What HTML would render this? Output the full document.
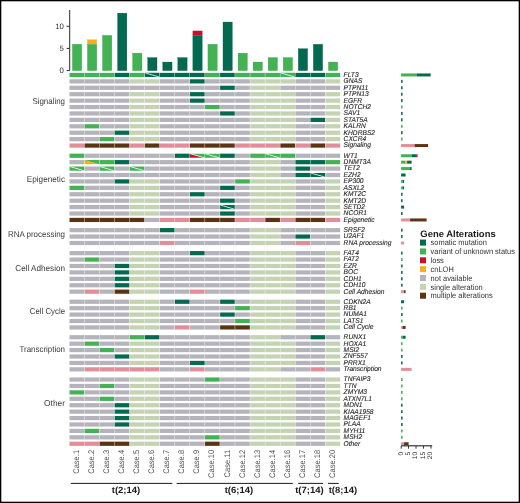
<!DOCTYPE html>
<html><head><meta charset="utf-8"><title>Oncoprint</title>
<style>
html,body{margin:0;padding:0;background:#fff;}
svg{display:block;will-change:transform;text-rendering:geometricPrecision;font-family:"Liberation Sans",sans-serif;}
</style></head>
<body>
<svg width="520" height="503" viewBox="0 0 520 503">
<rect width="520" height="503" fill="#fff"/>
<rect x="72.4" y="44.28" width="9.3" height="26.37" fill="#42b252" stroke="#23a03c" stroke-width="0.3"/>
<rect x="87.46" y="44.28" width="9.3" height="26.37" fill="#42b252" stroke="#23a03c" stroke-width="0.3"/>
<rect x="87.46" y="39.83" width="9.3" height="4.15" fill="#f5b11a" stroke="#e0a010" stroke-width="0.3"/>
<rect x="102.52" y="35.39" width="9.3" height="35.26" fill="#42b252" stroke="#23a03c" stroke-width="0.3"/>
<rect x="117.58" y="13.16" width="9.3" height="57.49" fill="#026a50" stroke="#00553e" stroke-width="0.3"/>
<rect x="132.64" y="53.17" width="9.3" height="17.48" fill="#42b252" stroke="#23a03c" stroke-width="0.3"/>
<rect x="147.7" y="57.61" width="9.3" height="13.04" fill="#026a50" stroke="#00553e" stroke-width="0.3"/>
<rect x="162.76" y="62.06" width="9.3" height="8.59" fill="#026a50" stroke="#00553e" stroke-width="0.3"/>
<rect x="177.82" y="57.61" width="9.3" height="13.04" fill="#026a50" stroke="#00553e" stroke-width="0.3"/>
<rect x="192.88" y="35.39" width="9.3" height="35.26" fill="#026a50" stroke="#00553e" stroke-width="0.3"/>
<rect x="192.88" y="30.94" width="9.3" height="4.15" fill="#c8102e" stroke="#a80d26" stroke-width="0.3"/>
<rect x="207.94" y="44.28" width="9.3" height="26.37" fill="#42b252" stroke="#23a03c" stroke-width="0.3"/>
<rect x="223" y="22.05" width="9.3" height="48.6" fill="#026a50" stroke="#00553e" stroke-width="0.3"/>
<rect x="238.06" y="53.17" width="9.3" height="17.48" fill="#42b252" stroke="#23a03c" stroke-width="0.3"/>
<rect x="253.12" y="62.06" width="9.3" height="8.59" fill="#42b252" stroke="#23a03c" stroke-width="0.3"/>
<rect x="268.18" y="57.61" width="9.3" height="13.04" fill="#42b252" stroke="#23a03c" stroke-width="0.3"/>
<rect x="283.24" y="57.61" width="9.3" height="13.04" fill="#42b252" stroke="#23a03c" stroke-width="0.3"/>
<rect x="298.3" y="48.72" width="9.3" height="21.93" fill="#026a50" stroke="#00553e" stroke-width="0.3"/>
<rect x="313.36" y="44.28" width="9.3" height="26.37" fill="#026a50" stroke="#00553e" stroke-width="0.3"/>
<rect x="328.42" y="62.06" width="9.3" height="8.59" fill="#42b252" stroke="#23a03c" stroke-width="0.3"/>
<path d="M69.7 10V70.6H66.6M66.6 48.4H69.7M66.6 26.3H69.7" fill="none" stroke="#2b2b2b" stroke-width="1"/>
<text x="63.9" y="29.05" text-anchor="end" font-size="7.8" fill="#333">10</text>
<text x="63.9" y="51.15" text-anchor="end" font-size="7.8" fill="#333">5</text>
<text x="63.9" y="73.25" text-anchor="end" font-size="7.8" fill="#333">0</text>
<text x="65" y="103.8" text-anchor="end" font-size="8.5" fill="#3a3a3a" textLength="32.6" lengthAdjust="spacingAndGlyphs">Signaling</text>
<rect x="69.5" y="72.85" width="44.78" height="4.2" fill="#42b252"/>
<rect x="84.16" y="72.85" width="0.4" height="4.2" fill="#fff"/>
<rect x="99.22" y="72.85" width="0.4" height="4.2" fill="#fff"/>
<rect x="114.68" y="72.85" width="14.66" height="4.2" fill="#026a50"/>
<rect x="129.74" y="72.85" width="14.66" height="4.2" fill="#42b252"/>
<path d="M144.8 72.85L144.8 77.05L159.46 77.05Z" fill="#026a50"/><path d="M144.8 72.85L159.46 72.85L159.46 77.05Z" fill="#026a50"/><path d="M145.3 72.95L158.96 76.95" stroke="#fff" stroke-width="0.7"/>
<rect x="159.86" y="72.85" width="44.78" height="4.2" fill="#026a50"/>
<rect x="174.52" y="72.85" width="0.4" height="4.2" fill="#fff"/>
<rect x="189.58" y="72.85" width="0.4" height="4.2" fill="#fff"/>
<rect x="205.04" y="72.85" width="14.66" height="4.2" fill="#42b252"/>
<rect x="220.1" y="72.85" width="14.66" height="4.2" fill="#026a50"/>
<rect x="235.16" y="72.85" width="44.78" height="4.2" fill="#42b252"/>
<rect x="249.82" y="72.85" width="0.4" height="4.2" fill="#fff"/>
<rect x="264.88" y="72.85" width="0.4" height="4.2" fill="#fff"/>
<path d="M280.34 72.85L280.34 77.05L295 77.05Z" fill="#42b252"/><path d="M280.34 72.85L295 72.85L295 77.05Z" fill="#42b252"/><path d="M280.84 72.95L294.5 76.95" stroke="#fff" stroke-width="0.7"/>
<rect x="295.4" y="72.85" width="29.72" height="4.2" fill="#026a50"/>
<rect x="310.06" y="72.85" width="0.4" height="4.2" fill="#fff"/>
<rect x="325.52" y="72.85" width="14.66" height="4.2" fill="#42b252"/>
<text transform="translate(343.6 76.85) scale(0.95 1)" font-size="7" font-style="italic" fill="#262626" stroke="#262626" stroke-width="0.12">FLT3</text>
<rect x="401.1" y="73.45" width="15.9" height="3" fill="#42b252"/>
<rect x="417" y="73.45" width="13.65" height="3" fill="#026a50"/>
<rect x="69.5" y="79.27" width="59.84" height="4.2" fill="#b5b3bb"/>
<rect x="84.16" y="79.27" width="0.4" height="4.2" fill="#fff"/>
<rect x="99.22" y="79.27" width="0.4" height="4.2" fill="#fff"/>
<rect x="114.28" y="79.27" width="0.4" height="4.2" fill="#fff"/>
<rect x="129.74" y="79.27" width="29.72" height="4.2" fill="#c4d3b1"/>
<rect x="144.4" y="79.27" width="0.4" height="4.2" fill="#fff"/>
<rect x="159.86" y="79.27" width="29.72" height="4.2" fill="#b5b3bb"/>
<rect x="174.52" y="79.27" width="0.4" height="4.2" fill="#fff"/>
<rect x="189.98" y="79.27" width="14.66" height="4.2" fill="#026a50"/>
<rect x="205.04" y="79.27" width="44.78" height="4.2" fill="#b5b3bb"/>
<rect x="219.7" y="79.27" width="0.4" height="4.2" fill="#fff"/>
<rect x="234.76" y="79.27" width="0.4" height="4.2" fill="#fff"/>
<rect x="250.22" y="79.27" width="44.78" height="4.2" fill="#c4d3b1"/>
<rect x="264.88" y="79.27" width="0.4" height="4.2" fill="#fff"/>
<rect x="279.94" y="79.27" width="0.4" height="4.2" fill="#fff"/>
<rect x="295.4" y="79.27" width="29.72" height="4.2" fill="#b5b3bb"/>
<rect x="310.06" y="79.27" width="0.4" height="4.2" fill="#fff"/>
<rect x="325.52" y="79.27" width="14.66" height="4.2" fill="#c4d3b1"/>
<text transform="translate(343.6 83.27) scale(0.95 1)" font-size="7" font-style="italic" fill="#262626" stroke="#262626" stroke-width="0.12">GNAS</text>
<rect x="401.1" y="79.87" width="1.5" height="3" fill="#026a50"/>
<rect x="69.5" y="85.69" width="150.2" height="4.2" fill="#b5b3bb"/>
<rect x="84.16" y="85.69" width="0.4" height="4.2" fill="#fff"/>
<rect x="99.22" y="85.69" width="0.4" height="4.2" fill="#fff"/>
<rect x="114.28" y="85.69" width="0.4" height="4.2" fill="#fff"/>
<rect x="129.34" y="85.69" width="0.4" height="4.2" fill="#fff"/>
<rect x="144.4" y="85.69" width="0.4" height="4.2" fill="#fff"/>
<rect x="159.46" y="85.69" width="0.4" height="4.2" fill="#fff"/>
<rect x="174.52" y="85.69" width="0.4" height="4.2" fill="#fff"/>
<rect x="189.58" y="85.69" width="0.4" height="4.2" fill="#fff"/>
<rect x="204.64" y="85.69" width="0.4" height="4.2" fill="#fff"/>
<rect x="220.1" y="85.69" width="14.66" height="4.2" fill="#026a50"/>
<rect x="235.16" y="85.69" width="14.66" height="4.2" fill="#b5b3bb"/>
<rect x="250.22" y="85.69" width="29.72" height="4.2" fill="#c4d3b1"/>
<rect x="264.88" y="85.69" width="0.4" height="4.2" fill="#fff"/>
<rect x="280.34" y="85.69" width="59.84" height="4.2" fill="#b5b3bb"/>
<rect x="295" y="85.69" width="0.4" height="4.2" fill="#fff"/>
<rect x="310.06" y="85.69" width="0.4" height="4.2" fill="#fff"/>
<rect x="325.12" y="85.69" width="0.4" height="4.2" fill="#fff"/>
<text transform="translate(343.6 89.69) scale(0.95 1)" font-size="7" font-style="italic" fill="#262626" stroke="#262626" stroke-width="0.12">PTPN11</text>
<rect x="401.1" y="86.29" width="1.5" height="3" fill="#026a50"/>
<rect x="69.5" y="92.11" width="59.84" height="4.2" fill="#b5b3bb"/>
<rect x="84.16" y="92.11" width="0.4" height="4.2" fill="#fff"/>
<rect x="99.22" y="92.11" width="0.4" height="4.2" fill="#fff"/>
<rect x="114.28" y="92.11" width="0.4" height="4.2" fill="#fff"/>
<rect x="129.74" y="92.11" width="29.72" height="4.2" fill="#c4d3b1"/>
<rect x="144.4" y="92.11" width="0.4" height="4.2" fill="#fff"/>
<rect x="159.86" y="92.11" width="29.72" height="4.2" fill="#b5b3bb"/>
<rect x="174.52" y="92.11" width="0.4" height="4.2" fill="#fff"/>
<rect x="189.98" y="92.11" width="14.66" height="4.2" fill="#026a50"/>
<rect x="205.04" y="92.11" width="44.78" height="4.2" fill="#b5b3bb"/>
<rect x="219.7" y="92.11" width="0.4" height="4.2" fill="#fff"/>
<rect x="234.76" y="92.11" width="0.4" height="4.2" fill="#fff"/>
<rect x="250.22" y="92.11" width="44.78" height="4.2" fill="#c4d3b1"/>
<rect x="264.88" y="92.11" width="0.4" height="4.2" fill="#fff"/>
<rect x="279.94" y="92.11" width="0.4" height="4.2" fill="#fff"/>
<rect x="295.4" y="92.11" width="29.72" height="4.2" fill="#b5b3bb"/>
<rect x="310.06" y="92.11" width="0.4" height="4.2" fill="#fff"/>
<rect x="325.52" y="92.11" width="14.66" height="4.2" fill="#c4d3b1"/>
<text transform="translate(343.6 96.11) scale(0.95 1)" font-size="7" font-style="italic" fill="#262626" stroke="#262626" stroke-width="0.12">PTPN13</text>
<rect x="401.1" y="92.71" width="1.5" height="3" fill="#026a50"/>
<rect x="69.5" y="98.53" width="59.84" height="4.2" fill="#b5b3bb"/>
<rect x="84.16" y="98.53" width="0.4" height="4.2" fill="#fff"/>
<rect x="99.22" y="98.53" width="0.4" height="4.2" fill="#fff"/>
<rect x="114.28" y="98.53" width="0.4" height="4.2" fill="#fff"/>
<rect x="129.74" y="98.53" width="29.72" height="4.2" fill="#c4d3b1"/>
<rect x="144.4" y="98.53" width="0.4" height="4.2" fill="#fff"/>
<rect x="159.86" y="98.53" width="29.72" height="4.2" fill="#b5b3bb"/>
<rect x="174.52" y="98.53" width="0.4" height="4.2" fill="#fff"/>
<rect x="189.98" y="98.53" width="14.66" height="4.2" fill="#026a50"/>
<rect x="205.04" y="98.53" width="44.78" height="4.2" fill="#b5b3bb"/>
<rect x="219.7" y="98.53" width="0.4" height="4.2" fill="#fff"/>
<rect x="234.76" y="98.53" width="0.4" height="4.2" fill="#fff"/>
<rect x="250.22" y="98.53" width="44.78" height="4.2" fill="#c4d3b1"/>
<rect x="264.88" y="98.53" width="0.4" height="4.2" fill="#fff"/>
<rect x="279.94" y="98.53" width="0.4" height="4.2" fill="#fff"/>
<rect x="295.4" y="98.53" width="29.72" height="4.2" fill="#b5b3bb"/>
<rect x="310.06" y="98.53" width="0.4" height="4.2" fill="#fff"/>
<rect x="325.52" y="98.53" width="14.66" height="4.2" fill="#c4d3b1"/>
<text transform="translate(343.6 102.53) scale(0.95 1)" font-size="7" font-style="italic" fill="#262626" stroke="#262626" stroke-width="0.12">EGFR</text>
<rect x="401.1" y="99.13" width="1.5" height="3" fill="#026a50"/>
<rect x="69.5" y="104.95" width="59.84" height="4.2" fill="#b5b3bb"/>
<rect x="84.16" y="104.95" width="0.4" height="4.2" fill="#fff"/>
<rect x="99.22" y="104.95" width="0.4" height="4.2" fill="#fff"/>
<rect x="114.28" y="104.95" width="0.4" height="4.2" fill="#fff"/>
<rect x="129.74" y="104.95" width="29.72" height="4.2" fill="#c4d3b1"/>
<rect x="144.4" y="104.95" width="0.4" height="4.2" fill="#fff"/>
<rect x="159.86" y="104.95" width="44.78" height="4.2" fill="#b5b3bb"/>
<rect x="174.52" y="104.95" width="0.4" height="4.2" fill="#fff"/>
<rect x="189.58" y="104.95" width="0.4" height="4.2" fill="#fff"/>
<rect x="205.04" y="104.95" width="14.66" height="4.2" fill="#42b252"/>
<rect x="220.1" y="104.95" width="29.72" height="4.2" fill="#b5b3bb"/>
<rect x="234.76" y="104.95" width="0.4" height="4.2" fill="#fff"/>
<rect x="250.22" y="104.95" width="44.78" height="4.2" fill="#c4d3b1"/>
<rect x="264.88" y="104.95" width="0.4" height="4.2" fill="#fff"/>
<rect x="279.94" y="104.95" width="0.4" height="4.2" fill="#fff"/>
<rect x="295.4" y="104.95" width="29.72" height="4.2" fill="#b5b3bb"/>
<rect x="310.06" y="104.95" width="0.4" height="4.2" fill="#fff"/>
<rect x="325.52" y="104.95" width="14.66" height="4.2" fill="#c4d3b1"/>
<text transform="translate(343.6 108.95) scale(0.95 1)" font-size="7" font-style="italic" fill="#262626" stroke="#262626" stroke-width="0.12">NOTCH2</text>
<rect x="401.1" y="105.55" width="1.5" height="3" fill="#42b252"/>
<rect x="69.5" y="111.37" width="59.84" height="4.2" fill="#b5b3bb"/>
<rect x="84.16" y="111.37" width="0.4" height="4.2" fill="#fff"/>
<rect x="99.22" y="111.37" width="0.4" height="4.2" fill="#fff"/>
<rect x="114.28" y="111.37" width="0.4" height="4.2" fill="#fff"/>
<rect x="129.74" y="111.37" width="29.72" height="4.2" fill="#c4d3b1"/>
<rect x="144.4" y="111.37" width="0.4" height="4.2" fill="#fff"/>
<rect x="159.86" y="111.37" width="59.84" height="4.2" fill="#b5b3bb"/>
<rect x="174.52" y="111.37" width="0.4" height="4.2" fill="#fff"/>
<rect x="189.58" y="111.37" width="0.4" height="4.2" fill="#fff"/>
<rect x="204.64" y="111.37" width="0.4" height="4.2" fill="#fff"/>
<rect x="220.1" y="111.37" width="14.66" height="4.2" fill="#026a50"/>
<rect x="235.16" y="111.37" width="14.66" height="4.2" fill="#b5b3bb"/>
<rect x="250.22" y="111.37" width="44.78" height="4.2" fill="#c4d3b1"/>
<rect x="264.88" y="111.37" width="0.4" height="4.2" fill="#fff"/>
<rect x="279.94" y="111.37" width="0.4" height="4.2" fill="#fff"/>
<rect x="295.4" y="111.37" width="29.72" height="4.2" fill="#b5b3bb"/>
<rect x="310.06" y="111.37" width="0.4" height="4.2" fill="#fff"/>
<rect x="325.52" y="111.37" width="14.66" height="4.2" fill="#c4d3b1"/>
<text transform="translate(343.6 115.37) scale(0.95 1)" font-size="7" font-style="italic" fill="#262626" stroke="#262626" stroke-width="0.12">SAV1</text>
<rect x="401.1" y="111.97" width="1.5" height="3" fill="#026a50"/>
<rect x="69.5" y="117.79" width="59.84" height="4.2" fill="#b5b3bb"/>
<rect x="84.16" y="117.79" width="0.4" height="4.2" fill="#fff"/>
<rect x="99.22" y="117.79" width="0.4" height="4.2" fill="#fff"/>
<rect x="114.28" y="117.79" width="0.4" height="4.2" fill="#fff"/>
<rect x="129.74" y="117.79" width="29.72" height="4.2" fill="#c4d3b1"/>
<rect x="144.4" y="117.79" width="0.4" height="4.2" fill="#fff"/>
<rect x="159.86" y="117.79" width="89.96" height="4.2" fill="#b5b3bb"/>
<rect x="174.52" y="117.79" width="0.4" height="4.2" fill="#fff"/>
<rect x="189.58" y="117.79" width="0.4" height="4.2" fill="#fff"/>
<rect x="204.64" y="117.79" width="0.4" height="4.2" fill="#fff"/>
<rect x="219.7" y="117.79" width="0.4" height="4.2" fill="#fff"/>
<rect x="234.76" y="117.79" width="0.4" height="4.2" fill="#fff"/>
<rect x="250.22" y="117.79" width="44.78" height="4.2" fill="#c4d3b1"/>
<rect x="264.88" y="117.79" width="0.4" height="4.2" fill="#fff"/>
<rect x="279.94" y="117.79" width="0.4" height="4.2" fill="#fff"/>
<rect x="295.4" y="117.79" width="14.66" height="4.2" fill="#b5b3bb"/>
<rect x="310.46" y="117.79" width="14.66" height="4.2" fill="#026a50"/>
<rect x="325.52" y="117.79" width="14.66" height="4.2" fill="#c4d3b1"/>
<text transform="translate(343.6 121.79) scale(0.95 1)" font-size="7" font-style="italic" fill="#262626" stroke="#262626" stroke-width="0.12">STAT5A</text>
<rect x="401.1" y="118.39" width="1.5" height="3" fill="#026a50"/>
<rect x="69.5" y="124.21" width="14.66" height="4.2" fill="#b5b3bb"/>
<rect x="84.56" y="124.21" width="14.66" height="4.2" fill="#42b252"/>
<rect x="99.62" y="124.21" width="29.72" height="4.2" fill="#b5b3bb"/>
<rect x="114.28" y="124.21" width="0.4" height="4.2" fill="#fff"/>
<rect x="129.74" y="124.21" width="29.72" height="4.2" fill="#c4d3b1"/>
<rect x="144.4" y="124.21" width="0.4" height="4.2" fill="#fff"/>
<rect x="159.86" y="124.21" width="89.96" height="4.2" fill="#b5b3bb"/>
<rect x="174.52" y="124.21" width="0.4" height="4.2" fill="#fff"/>
<rect x="189.58" y="124.21" width="0.4" height="4.2" fill="#fff"/>
<rect x="204.64" y="124.21" width="0.4" height="4.2" fill="#fff"/>
<rect x="219.7" y="124.21" width="0.4" height="4.2" fill="#fff"/>
<rect x="234.76" y="124.21" width="0.4" height="4.2" fill="#fff"/>
<rect x="250.22" y="124.21" width="44.78" height="4.2" fill="#c4d3b1"/>
<rect x="264.88" y="124.21" width="0.4" height="4.2" fill="#fff"/>
<rect x="279.94" y="124.21" width="0.4" height="4.2" fill="#fff"/>
<rect x="295.4" y="124.21" width="29.72" height="4.2" fill="#b5b3bb"/>
<rect x="310.06" y="124.21" width="0.4" height="4.2" fill="#fff"/>
<rect x="325.52" y="124.21" width="14.66" height="4.2" fill="#c4d3b1"/>
<text transform="translate(343.6 128.21) scale(0.95 1)" font-size="7" font-style="italic" fill="#262626" stroke="#262626" stroke-width="0.12">KALRN</text>
<rect x="401.1" y="124.81" width="1.5" height="3" fill="#42b252"/>
<rect x="69.5" y="130.63" width="44.78" height="4.2" fill="#b5b3bb"/>
<rect x="84.16" y="130.63" width="0.4" height="4.2" fill="#fff"/>
<rect x="99.22" y="130.63" width="0.4" height="4.2" fill="#fff"/>
<rect x="114.68" y="130.63" width="14.66" height="4.2" fill="#026a50"/>
<rect x="129.74" y="130.63" width="29.72" height="4.2" fill="#c4d3b1"/>
<rect x="144.4" y="130.63" width="0.4" height="4.2" fill="#fff"/>
<rect x="159.86" y="130.63" width="89.96" height="4.2" fill="#b5b3bb"/>
<rect x="174.52" y="130.63" width="0.4" height="4.2" fill="#fff"/>
<rect x="189.58" y="130.63" width="0.4" height="4.2" fill="#fff"/>
<rect x="204.64" y="130.63" width="0.4" height="4.2" fill="#fff"/>
<rect x="219.7" y="130.63" width="0.4" height="4.2" fill="#fff"/>
<rect x="234.76" y="130.63" width="0.4" height="4.2" fill="#fff"/>
<rect x="250.22" y="130.63" width="44.78" height="4.2" fill="#c4d3b1"/>
<rect x="264.88" y="130.63" width="0.4" height="4.2" fill="#fff"/>
<rect x="279.94" y="130.63" width="0.4" height="4.2" fill="#fff"/>
<rect x="295.4" y="130.63" width="29.72" height="4.2" fill="#b5b3bb"/>
<rect x="310.06" y="130.63" width="0.4" height="4.2" fill="#fff"/>
<rect x="325.52" y="130.63" width="14.66" height="4.2" fill="#c4d3b1"/>
<text transform="translate(343.6 134.63) scale(0.95 1)" font-size="7" font-style="italic" fill="#262626" stroke="#262626" stroke-width="0.12">KHDRBS2</text>
<rect x="401.1" y="131.23" width="1.5" height="3" fill="#026a50"/>
<rect x="69.5" y="137.05" width="29.72" height="4.2" fill="#b5b3bb"/>
<rect x="84.16" y="137.05" width="0.4" height="4.2" fill="#fff"/>
<rect x="99.62" y="137.05" width="14.66" height="4.2" fill="#42b252"/>
<rect x="114.68" y="137.05" width="14.66" height="4.2" fill="#b5b3bb"/>
<rect x="129.74" y="137.05" width="29.72" height="4.2" fill="#c4d3b1"/>
<rect x="144.4" y="137.05" width="0.4" height="4.2" fill="#fff"/>
<rect x="159.86" y="137.05" width="89.96" height="4.2" fill="#b5b3bb"/>
<rect x="174.52" y="137.05" width="0.4" height="4.2" fill="#fff"/>
<rect x="189.58" y="137.05" width="0.4" height="4.2" fill="#fff"/>
<rect x="204.64" y="137.05" width="0.4" height="4.2" fill="#fff"/>
<rect x="219.7" y="137.05" width="0.4" height="4.2" fill="#fff"/>
<rect x="234.76" y="137.05" width="0.4" height="4.2" fill="#fff"/>
<rect x="250.22" y="137.05" width="44.78" height="4.2" fill="#c4d3b1"/>
<rect x="264.88" y="137.05" width="0.4" height="4.2" fill="#fff"/>
<rect x="279.94" y="137.05" width="0.4" height="4.2" fill="#fff"/>
<rect x="295.4" y="137.05" width="29.72" height="4.2" fill="#b5b3bb"/>
<rect x="310.06" y="137.05" width="0.4" height="4.2" fill="#fff"/>
<rect x="325.52" y="137.05" width="14.66" height="4.2" fill="#c4d3b1"/>
<text transform="translate(343.6 141.05) scale(0.95 1)" font-size="7" font-style="italic" fill="#262626" stroke="#262626" stroke-width="0.12">CXCR4</text>
<rect x="401.1" y="137.65" width="1.5" height="3" fill="#42b252"/>
<rect x="69.5" y="143.47" width="14.66" height="4.2" fill="#e18e98"/>
<rect x="84.56" y="143.47" width="44.78" height="4.2" fill="#5a3413"/>
<rect x="99.22" y="143.47" width="0.4" height="4.2" fill="#fff"/>
<rect x="114.28" y="143.47" width="0.4" height="4.2" fill="#fff"/>
<rect x="129.74" y="143.47" width="14.66" height="4.2" fill="#e18e98"/>
<rect x="144.8" y="143.47" width="14.66" height="4.2" fill="#5a3413"/>
<rect x="159.86" y="143.47" width="29.72" height="4.2" fill="#e18e98"/>
<rect x="174.52" y="143.47" width="0.4" height="4.2" fill="#fff"/>
<rect x="189.98" y="143.47" width="44.78" height="4.2" fill="#5a3413"/>
<rect x="204.64" y="143.47" width="0.4" height="4.2" fill="#fff"/>
<rect x="219.7" y="143.47" width="0.4" height="4.2" fill="#fff"/>
<rect x="235.16" y="143.47" width="44.78" height="4.2" fill="#e18e98"/>
<rect x="249.82" y="143.47" width="0.4" height="4.2" fill="#fff"/>
<rect x="264.88" y="143.47" width="0.4" height="4.2" fill="#fff"/>
<rect x="280.34" y="143.47" width="14.66" height="4.2" fill="#5a3413"/>
<rect x="295.4" y="143.47" width="14.66" height="4.2" fill="#e18e98"/>
<rect x="310.46" y="143.47" width="14.66" height="4.2" fill="#5a3413"/>
<rect x="325.52" y="143.47" width="14.66" height="4.2" fill="#e18e98"/>
<text transform="translate(343.6 147.47) scale(0.95 1)" font-size="7" font-style="italic" fill="#262626" stroke="#262626" stroke-width="0.12">Signaling</text>
<rect x="401.1" y="144.07" width="13.5" height="3" fill="#e18e98"/>
<rect x="414.6" y="144.07" width="13.5" height="3" fill="#5a3413"/>
<text x="65" y="181.7" text-anchor="end" font-size="8.5" fill="#3a3a3a" textLength="38.2" lengthAdjust="spacingAndGlyphs">Epigenetic</text>
<rect x="69.5" y="153.65" width="14.66" height="4.2" fill="#42b252"/>
<rect x="84.56" y="153.65" width="89.96" height="4.2" fill="#b5b3bb"/>
<rect x="99.22" y="153.65" width="0.4" height="4.2" fill="#fff"/>
<rect x="114.28" y="153.65" width="0.4" height="4.2" fill="#fff"/>
<rect x="129.34" y="153.65" width="0.4" height="4.2" fill="#fff"/>
<rect x="144.4" y="153.65" width="0.4" height="4.2" fill="#fff"/>
<rect x="159.46" y="153.65" width="0.4" height="4.2" fill="#fff"/>
<rect x="174.92" y="153.65" width="14.66" height="4.2" fill="#026a50"/>
<path d="M189.98 153.65L189.98 157.85L204.64 157.85Z" fill="#c8102e"/><path d="M189.98 153.65L204.64 153.65L204.64 157.85Z" fill="#42b252"/><path d="M190.48 153.75L204.14 157.75" stroke="#fff" stroke-width="0.7"/>
<path d="M205.04 153.65L205.04 157.85L219.7 157.85Z" fill="#42b252"/><path d="M205.04 153.65L219.7 153.65L219.7 157.85Z" fill="#42b252"/><path d="M205.54 153.75L219.2 157.75" stroke="#fff" stroke-width="0.7"/>
<rect x="220.1" y="153.65" width="14.66" height="4.2" fill="#026a50"/>
<rect x="235.16" y="153.65" width="14.66" height="4.2" fill="#b5b3bb"/>
<rect x="250.22" y="153.65" width="14.66" height="4.2" fill="#42b252"/>
<path d="M265.28 153.65L265.28 157.85L279.94 157.85Z" fill="#42b252"/><path d="M265.28 153.65L279.94 153.65L279.94 157.85Z" fill="#42b252"/><path d="M265.78 153.75L279.44 157.75" stroke="#fff" stroke-width="0.7"/>
<rect x="280.34" y="153.65" width="14.66" height="4.2" fill="#42b252"/>
<rect x="295.4" y="153.65" width="44.78" height="4.2" fill="#b5b3bb"/>
<rect x="310.06" y="153.65" width="0.4" height="4.2" fill="#fff"/>
<rect x="325.12" y="153.65" width="0.4" height="4.2" fill="#fff"/>
<text transform="translate(343.6 157.65) scale(0.95 1)" font-size="7" font-style="italic" fill="#262626" stroke="#262626" stroke-width="0.12">WT1</text>
<rect x="401.1" y="154.25" width="10.5" height="3" fill="#42b252"/>
<rect x="411.6" y="154.25" width="4.5" height="3" fill="#026a50"/>
<rect x="416.1" y="154.25" width="1.5" height="3" fill="#c8102e"/>
<rect x="69.5" y="160.07" width="14.66" height="4.2" fill="#b5b3bb"/>
<path d="M84.56 160.07L84.56 164.27L99.22 164.27Z" fill="#f5b11a"/><path d="M84.56 160.07L99.22 160.07L99.22 164.27Z" fill="#42b252"/>
<rect x="99.62" y="160.07" width="14.66" height="4.2" fill="#42b252"/>
<rect x="114.68" y="160.07" width="14.66" height="4.2" fill="#026a50"/>
<rect x="129.74" y="160.07" width="120.08" height="4.2" fill="#b5b3bb"/>
<rect x="144.4" y="160.07" width="0.4" height="4.2" fill="#fff"/>
<rect x="159.46" y="160.07" width="0.4" height="4.2" fill="#fff"/>
<rect x="174.52" y="160.07" width="0.4" height="4.2" fill="#fff"/>
<rect x="189.58" y="160.07" width="0.4" height="4.2" fill="#fff"/>
<rect x="204.64" y="160.07" width="0.4" height="4.2" fill="#fff"/>
<rect x="219.7" y="160.07" width="0.4" height="4.2" fill="#fff"/>
<rect x="234.76" y="160.07" width="0.4" height="4.2" fill="#fff"/>
<rect x="250.22" y="160.07" width="29.72" height="4.2" fill="#c4d3b1"/>
<rect x="264.88" y="160.07" width="0.4" height="4.2" fill="#fff"/>
<rect x="280.34" y="160.07" width="14.66" height="4.2" fill="#b5b3bb"/>
<rect x="295.4" y="160.07" width="29.72" height="4.2" fill="#026a50"/>
<rect x="310.06" y="160.07" width="0.4" height="4.2" fill="#fff"/>
<rect x="325.52" y="160.07" width="14.66" height="4.2" fill="#42b252"/>
<text transform="translate(343.6 164.07) scale(0.95 1)" font-size="7" font-style="italic" fill="#262626" stroke="#262626" stroke-width="0.12">DNMT3A</text>
<rect x="401.1" y="160.67" width="4.5" height="3" fill="#42b252"/>
<rect x="405.6" y="160.67" width="1.5" height="3" fill="#f5b11a"/>
<rect x="407.1" y="160.67" width="4.5" height="3" fill="#026a50"/>
<path d="M69.5 166.49L69.5 170.69L84.16 170.69Z" fill="#42b252"/><path d="M69.5 166.49L84.16 166.49L84.16 170.69Z" fill="#42b252"/><path d="M70 166.59L83.66 170.59" stroke="#fff" stroke-width="0.7"/>
<rect x="84.56" y="166.49" width="14.66" height="4.2" fill="#b5b3bb"/>
<path d="M99.62 166.49L99.62 170.69L114.28 170.69Z" fill="#42b252"/><path d="M99.62 166.49L114.28 166.49L114.28 170.69Z" fill="#42b252"/><path d="M100.12 166.59L113.78 170.59" stroke="#fff" stroke-width="0.7"/>
<rect x="114.68" y="166.49" width="14.66" height="4.2" fill="#b5b3bb"/>
<path d="M129.74 166.49L129.74 170.69L144.4 170.69Z" fill="#42b252"/><path d="M129.74 166.49L144.4 166.49L144.4 170.69Z" fill="#42b252"/><path d="M130.24 166.59L143.9 170.59" stroke="#fff" stroke-width="0.7"/>
<rect x="144.8" y="166.49" width="105.02" height="4.2" fill="#b5b3bb"/>
<rect x="159.46" y="166.49" width="0.4" height="4.2" fill="#fff"/>
<rect x="174.52" y="166.49" width="0.4" height="4.2" fill="#fff"/>
<rect x="189.58" y="166.49" width="0.4" height="4.2" fill="#fff"/>
<rect x="204.64" y="166.49" width="0.4" height="4.2" fill="#fff"/>
<rect x="219.7" y="166.49" width="0.4" height="4.2" fill="#fff"/>
<rect x="234.76" y="166.49" width="0.4" height="4.2" fill="#fff"/>
<rect x="250.22" y="166.49" width="29.72" height="4.2" fill="#c4d3b1"/>
<rect x="264.88" y="166.49" width="0.4" height="4.2" fill="#fff"/>
<rect x="280.34" y="166.49" width="14.66" height="4.2" fill="#b5b3bb"/>
<rect x="295.4" y="166.49" width="14.66" height="4.2" fill="#026a50"/>
<rect x="310.46" y="166.49" width="29.72" height="4.2" fill="#b5b3bb"/>
<rect x="325.12" y="166.49" width="0.4" height="4.2" fill="#fff"/>
<text transform="translate(343.6 170.49) scale(0.95 1)" font-size="7" font-style="italic" fill="#262626" stroke="#262626" stroke-width="0.12">TET2</text>
<rect x="401.1" y="167.09" width="9" height="3" fill="#42b252"/>
<rect x="410.1" y="167.09" width="1.5" height="3" fill="#026a50"/>
<rect x="69.5" y="172.91" width="180.32" height="4.2" fill="#b5b3bb"/>
<rect x="84.16" y="172.91" width="0.4" height="4.2" fill="#fff"/>
<rect x="99.22" y="172.91" width="0.4" height="4.2" fill="#fff"/>
<rect x="114.28" y="172.91" width="0.4" height="4.2" fill="#fff"/>
<rect x="129.34" y="172.91" width="0.4" height="4.2" fill="#fff"/>
<rect x="144.4" y="172.91" width="0.4" height="4.2" fill="#fff"/>
<rect x="159.46" y="172.91" width="0.4" height="4.2" fill="#fff"/>
<rect x="174.52" y="172.91" width="0.4" height="4.2" fill="#fff"/>
<rect x="189.58" y="172.91" width="0.4" height="4.2" fill="#fff"/>
<rect x="204.64" y="172.91" width="0.4" height="4.2" fill="#fff"/>
<rect x="219.7" y="172.91" width="0.4" height="4.2" fill="#fff"/>
<rect x="234.76" y="172.91" width="0.4" height="4.2" fill="#fff"/>
<rect x="250.22" y="172.91" width="29.72" height="4.2" fill="#c4d3b1"/>
<rect x="264.88" y="172.91" width="0.4" height="4.2" fill="#fff"/>
<rect x="280.34" y="172.91" width="14.66" height="4.2" fill="#b5b3bb"/>
<rect x="295.4" y="172.91" width="14.66" height="4.2" fill="#026a50"/>
<path d="M310.46 172.91L310.46 177.11L325.12 177.11Z" fill="#026a50"/><path d="M310.46 172.91L325.12 172.91L325.12 177.11Z" fill="#026a50"/><path d="M310.96 173.01L324.62 177.01" stroke="#fff" stroke-width="0.7"/>
<rect x="325.52" y="172.91" width="14.66" height="4.2" fill="#b5b3bb"/>
<text transform="translate(343.6 176.91) scale(0.95 1)" font-size="7" font-style="italic" fill="#262626" stroke="#262626" stroke-width="0.12">EZH2</text>
<rect x="401.1" y="173.51" width="4.5" height="3" fill="#026a50"/>
<rect x="69.5" y="179.33" width="44.78" height="4.2" fill="#b5b3bb"/>
<rect x="84.16" y="179.33" width="0.4" height="4.2" fill="#fff"/>
<rect x="99.22" y="179.33" width="0.4" height="4.2" fill="#fff"/>
<rect x="114.68" y="179.33" width="14.66" height="4.2" fill="#026a50"/>
<rect x="129.74" y="179.33" width="29.72" height="4.2" fill="#c4d3b1"/>
<rect x="144.4" y="179.33" width="0.4" height="4.2" fill="#fff"/>
<rect x="159.86" y="179.33" width="74.9" height="4.2" fill="#b5b3bb"/>
<rect x="174.52" y="179.33" width="0.4" height="4.2" fill="#fff"/>
<rect x="189.58" y="179.33" width="0.4" height="4.2" fill="#fff"/>
<rect x="204.64" y="179.33" width="0.4" height="4.2" fill="#fff"/>
<rect x="219.7" y="179.33" width="0.4" height="4.2" fill="#fff"/>
<rect x="235.16" y="179.33" width="14.66" height="4.2" fill="#42b252"/>
<rect x="250.22" y="179.33" width="44.78" height="4.2" fill="#c4d3b1"/>
<rect x="264.88" y="179.33" width="0.4" height="4.2" fill="#fff"/>
<rect x="279.94" y="179.33" width="0.4" height="4.2" fill="#fff"/>
<rect x="295.4" y="179.33" width="29.72" height="4.2" fill="#b5b3bb"/>
<rect x="310.06" y="179.33" width="0.4" height="4.2" fill="#fff"/>
<rect x="325.52" y="179.33" width="14.66" height="4.2" fill="#c4d3b1"/>
<text transform="translate(343.6 183.33) scale(0.95 1)" font-size="7" font-style="italic" fill="#262626" stroke="#262626" stroke-width="0.12">EP300</text>
<rect x="401.1" y="179.93" width="1.5" height="3" fill="#42b252"/>
<rect x="402.6" y="179.93" width="1.5" height="3" fill="#026a50"/>
<rect x="69.5" y="185.75" width="14.66" height="4.2" fill="#42b252"/>
<rect x="84.56" y="185.75" width="44.78" height="4.2" fill="#b5b3bb"/>
<rect x="99.22" y="185.75" width="0.4" height="4.2" fill="#fff"/>
<rect x="114.28" y="185.75" width="0.4" height="4.2" fill="#fff"/>
<rect x="129.74" y="185.75" width="29.72" height="4.2" fill="#c4d3b1"/>
<rect x="144.4" y="185.75" width="0.4" height="4.2" fill="#fff"/>
<rect x="159.86" y="185.75" width="59.84" height="4.2" fill="#b5b3bb"/>
<rect x="174.52" y="185.75" width="0.4" height="4.2" fill="#fff"/>
<rect x="189.58" y="185.75" width="0.4" height="4.2" fill="#fff"/>
<rect x="204.64" y="185.75" width="0.4" height="4.2" fill="#fff"/>
<rect x="220.1" y="185.75" width="14.66" height="4.2" fill="#026a50"/>
<rect x="235.16" y="185.75" width="14.66" height="4.2" fill="#b5b3bb"/>
<rect x="250.22" y="185.75" width="44.78" height="4.2" fill="#c4d3b1"/>
<rect x="264.88" y="185.75" width="0.4" height="4.2" fill="#fff"/>
<rect x="279.94" y="185.75" width="0.4" height="4.2" fill="#fff"/>
<rect x="295.4" y="185.75" width="29.72" height="4.2" fill="#b5b3bb"/>
<rect x="310.06" y="185.75" width="0.4" height="4.2" fill="#fff"/>
<rect x="325.52" y="185.75" width="14.66" height="4.2" fill="#c4d3b1"/>
<text transform="translate(343.6 189.75) scale(0.95 1)" font-size="7" font-style="italic" fill="#262626" stroke="#262626" stroke-width="0.12">ASXL2</text>
<rect x="401.1" y="186.35" width="1.5" height="3" fill="#42b252"/>
<rect x="402.6" y="186.35" width="1.5" height="3" fill="#026a50"/>
<rect x="69.5" y="192.17" width="59.84" height="4.2" fill="#b5b3bb"/>
<rect x="84.16" y="192.17" width="0.4" height="4.2" fill="#fff"/>
<rect x="99.22" y="192.17" width="0.4" height="4.2" fill="#fff"/>
<rect x="114.28" y="192.17" width="0.4" height="4.2" fill="#fff"/>
<rect x="129.74" y="192.17" width="29.72" height="4.2" fill="#c4d3b1"/>
<rect x="144.4" y="192.17" width="0.4" height="4.2" fill="#fff"/>
<rect x="159.86" y="192.17" width="29.72" height="4.2" fill="#b5b3bb"/>
<rect x="174.52" y="192.17" width="0.4" height="4.2" fill="#fff"/>
<rect x="189.98" y="192.17" width="14.66" height="4.2" fill="#026a50"/>
<rect x="205.04" y="192.17" width="44.78" height="4.2" fill="#b5b3bb"/>
<rect x="219.7" y="192.17" width="0.4" height="4.2" fill="#fff"/>
<rect x="234.76" y="192.17" width="0.4" height="4.2" fill="#fff"/>
<rect x="250.22" y="192.17" width="44.78" height="4.2" fill="#c4d3b1"/>
<rect x="264.88" y="192.17" width="0.4" height="4.2" fill="#fff"/>
<rect x="279.94" y="192.17" width="0.4" height="4.2" fill="#fff"/>
<rect x="295.4" y="192.17" width="29.72" height="4.2" fill="#b5b3bb"/>
<rect x="310.06" y="192.17" width="0.4" height="4.2" fill="#fff"/>
<rect x="325.52" y="192.17" width="14.66" height="4.2" fill="#c4d3b1"/>
<text transform="translate(343.6 196.17) scale(0.95 1)" font-size="7" font-style="italic" fill="#262626" stroke="#262626" stroke-width="0.12">KMT2C</text>
<rect x="401.1" y="192.77" width="1.5" height="3" fill="#026a50"/>
<rect x="69.5" y="198.59" width="59.84" height="4.2" fill="#b5b3bb"/>
<rect x="84.16" y="198.59" width="0.4" height="4.2" fill="#fff"/>
<rect x="99.22" y="198.59" width="0.4" height="4.2" fill="#fff"/>
<rect x="114.28" y="198.59" width="0.4" height="4.2" fill="#fff"/>
<rect x="129.74" y="198.59" width="29.72" height="4.2" fill="#c4d3b1"/>
<rect x="144.4" y="198.59" width="0.4" height="4.2" fill="#fff"/>
<rect x="159.86" y="198.59" width="59.84" height="4.2" fill="#b5b3bb"/>
<rect x="174.52" y="198.59" width="0.4" height="4.2" fill="#fff"/>
<rect x="189.58" y="198.59" width="0.4" height="4.2" fill="#fff"/>
<rect x="204.64" y="198.59" width="0.4" height="4.2" fill="#fff"/>
<rect x="220.1" y="198.59" width="14.66" height="4.2" fill="#026a50"/>
<rect x="235.16" y="198.59" width="14.66" height="4.2" fill="#b5b3bb"/>
<rect x="250.22" y="198.59" width="44.78" height="4.2" fill="#c4d3b1"/>
<rect x="264.88" y="198.59" width="0.4" height="4.2" fill="#fff"/>
<rect x="279.94" y="198.59" width="0.4" height="4.2" fill="#fff"/>
<rect x="295.4" y="198.59" width="29.72" height="4.2" fill="#b5b3bb"/>
<rect x="310.06" y="198.59" width="0.4" height="4.2" fill="#fff"/>
<rect x="325.52" y="198.59" width="14.66" height="4.2" fill="#c4d3b1"/>
<text transform="translate(343.6 202.59) scale(0.95 1)" font-size="7" font-style="italic" fill="#262626" stroke="#262626" stroke-width="0.12">KMT2D</text>
<rect x="401.1" y="199.19" width="1.5" height="3" fill="#026a50"/>
<rect x="69.5" y="205.01" width="59.84" height="4.2" fill="#b5b3bb"/>
<rect x="84.16" y="205.01" width="0.4" height="4.2" fill="#fff"/>
<rect x="99.22" y="205.01" width="0.4" height="4.2" fill="#fff"/>
<rect x="114.28" y="205.01" width="0.4" height="4.2" fill="#fff"/>
<rect x="129.74" y="205.01" width="29.72" height="4.2" fill="#c4d3b1"/>
<rect x="144.4" y="205.01" width="0.4" height="4.2" fill="#fff"/>
<rect x="159.86" y="205.01" width="59.84" height="4.2" fill="#b5b3bb"/>
<rect x="174.52" y="205.01" width="0.4" height="4.2" fill="#fff"/>
<rect x="189.58" y="205.01" width="0.4" height="4.2" fill="#fff"/>
<rect x="204.64" y="205.01" width="0.4" height="4.2" fill="#fff"/>
<path d="M220.1 205.01L220.1 209.21L234.76 209.21Z" fill="#026a50"/><path d="M220.1 205.01L234.76 205.01L234.76 209.21Z" fill="#026a50"/><path d="M220.6 205.11L234.26 209.11" stroke="#fff" stroke-width="0.7"/>
<rect x="235.16" y="205.01" width="14.66" height="4.2" fill="#b5b3bb"/>
<rect x="250.22" y="205.01" width="44.78" height="4.2" fill="#c4d3b1"/>
<rect x="264.88" y="205.01" width="0.4" height="4.2" fill="#fff"/>
<rect x="279.94" y="205.01" width="0.4" height="4.2" fill="#fff"/>
<rect x="295.4" y="205.01" width="29.72" height="4.2" fill="#b5b3bb"/>
<rect x="310.06" y="205.01" width="0.4" height="4.2" fill="#fff"/>
<rect x="325.52" y="205.01" width="14.66" height="4.2" fill="#c4d3b1"/>
<text transform="translate(343.6 209.01) scale(0.95 1)" font-size="7" font-style="italic" fill="#262626" stroke="#262626" stroke-width="0.12">SETD2</text>
<rect x="401.1" y="205.61" width="3" height="3" fill="#026a50"/>
<rect x="69.5" y="211.43" width="59.84" height="4.2" fill="#b5b3bb"/>
<rect x="84.16" y="211.43" width="0.4" height="4.2" fill="#fff"/>
<rect x="99.22" y="211.43" width="0.4" height="4.2" fill="#fff"/>
<rect x="114.28" y="211.43" width="0.4" height="4.2" fill="#fff"/>
<rect x="129.74" y="211.43" width="29.72" height="4.2" fill="#c4d3b1"/>
<rect x="144.4" y="211.43" width="0.4" height="4.2" fill="#fff"/>
<rect x="159.86" y="211.43" width="59.84" height="4.2" fill="#b5b3bb"/>
<rect x="174.52" y="211.43" width="0.4" height="4.2" fill="#fff"/>
<rect x="189.58" y="211.43" width="0.4" height="4.2" fill="#fff"/>
<rect x="204.64" y="211.43" width="0.4" height="4.2" fill="#fff"/>
<rect x="220.1" y="211.43" width="14.66" height="4.2" fill="#026a50"/>
<rect x="235.16" y="211.43" width="14.66" height="4.2" fill="#b5b3bb"/>
<rect x="250.22" y="211.43" width="44.78" height="4.2" fill="#c4d3b1"/>
<rect x="264.88" y="211.43" width="0.4" height="4.2" fill="#fff"/>
<rect x="279.94" y="211.43" width="0.4" height="4.2" fill="#fff"/>
<rect x="295.4" y="211.43" width="29.72" height="4.2" fill="#b5b3bb"/>
<rect x="310.06" y="211.43" width="0.4" height="4.2" fill="#fff"/>
<rect x="325.52" y="211.43" width="14.66" height="4.2" fill="#c4d3b1"/>
<text transform="translate(343.6 215.43) scale(0.95 1)" font-size="7" font-style="italic" fill="#262626" stroke="#262626" stroke-width="0.12">NCOR1</text>
<rect x="401.1" y="212.03" width="1.5" height="3" fill="#026a50"/>
<rect x="69.5" y="217.85" width="74.9" height="4.2" fill="#5a3413"/>
<rect x="84.16" y="217.85" width="0.4" height="4.2" fill="#fff"/>
<rect x="99.22" y="217.85" width="0.4" height="4.2" fill="#fff"/>
<rect x="114.28" y="217.85" width="0.4" height="4.2" fill="#fff"/>
<rect x="129.34" y="217.85" width="0.4" height="4.2" fill="#fff"/>
<rect x="144.8" y="217.85" width="14.66" height="4.2" fill="#b5b3bb"/>
<rect x="159.86" y="217.85" width="29.72" height="4.2" fill="#e18e98"/>
<rect x="174.52" y="217.85" width="0.4" height="4.2" fill="#fff"/>
<rect x="189.98" y="217.85" width="44.78" height="4.2" fill="#5a3413"/>
<rect x="204.64" y="217.85" width="0.4" height="4.2" fill="#fff"/>
<rect x="219.7" y="217.85" width="0.4" height="4.2" fill="#fff"/>
<rect x="235.16" y="217.85" width="29.72" height="4.2" fill="#e18e98"/>
<rect x="249.82" y="217.85" width="0.4" height="4.2" fill="#fff"/>
<rect x="265.28" y="217.85" width="14.66" height="4.2" fill="#5a3413"/>
<rect x="280.34" y="217.85" width="14.66" height="4.2" fill="#e18e98"/>
<rect x="295.4" y="217.85" width="29.72" height="4.2" fill="#5a3413"/>
<rect x="310.06" y="217.85" width="0.4" height="4.2" fill="#fff"/>
<rect x="325.52" y="217.85" width="14.66" height="4.2" fill="#e18e98"/>
<text transform="translate(343.6 221.85) scale(0.95 1)" font-size="7" font-style="italic" fill="#262626" stroke="#262626" stroke-width="0.12">Epigenetic</text>
<rect x="401.1" y="218.45" width="9" height="3" fill="#e18e98"/>
<rect x="410.1" y="218.45" width="16.5" height="3" fill="#5a3413"/>
<text x="65" y="237.4" text-anchor="end" font-size="8.5" fill="#3a3a3a" textLength="57" lengthAdjust="spacingAndGlyphs">RNA processing</text>
<rect x="69.5" y="228.05" width="89.96" height="4.2" fill="#b5b3bb"/>
<rect x="84.16" y="228.05" width="0.4" height="4.2" fill="#fff"/>
<rect x="99.22" y="228.05" width="0.4" height="4.2" fill="#fff"/>
<rect x="114.28" y="228.05" width="0.4" height="4.2" fill="#fff"/>
<rect x="129.34" y="228.05" width="0.4" height="4.2" fill="#fff"/>
<rect x="144.4" y="228.05" width="0.4" height="4.2" fill="#fff"/>
<rect x="159.86" y="228.05" width="14.66" height="4.2" fill="#026a50"/>
<rect x="174.92" y="228.05" width="74.9" height="4.2" fill="#b5b3bb"/>
<rect x="189.58" y="228.05" width="0.4" height="4.2" fill="#fff"/>
<rect x="204.64" y="228.05" width="0.4" height="4.2" fill="#fff"/>
<rect x="219.7" y="228.05" width="0.4" height="4.2" fill="#fff"/>
<rect x="234.76" y="228.05" width="0.4" height="4.2" fill="#fff"/>
<rect x="250.22" y="228.05" width="29.72" height="4.2" fill="#c4d3b1"/>
<rect x="264.88" y="228.05" width="0.4" height="4.2" fill="#fff"/>
<rect x="280.34" y="228.05" width="59.84" height="4.2" fill="#b5b3bb"/>
<rect x="295" y="228.05" width="0.4" height="4.2" fill="#fff"/>
<rect x="310.06" y="228.05" width="0.4" height="4.2" fill="#fff"/>
<rect x="325.12" y="228.05" width="0.4" height="4.2" fill="#fff"/>
<text transform="translate(343.6 232.05) scale(0.95 1)" font-size="7" font-style="italic" fill="#262626" stroke="#262626" stroke-width="0.12">SRSF2</text>
<rect x="401.1" y="228.65" width="1.5" height="3" fill="#026a50"/>
<rect x="69.5" y="234.47" width="180.32" height="4.2" fill="#b5b3bb"/>
<rect x="84.16" y="234.47" width="0.4" height="4.2" fill="#fff"/>
<rect x="99.22" y="234.47" width="0.4" height="4.2" fill="#fff"/>
<rect x="114.28" y="234.47" width="0.4" height="4.2" fill="#fff"/>
<rect x="129.34" y="234.47" width="0.4" height="4.2" fill="#fff"/>
<rect x="144.4" y="234.47" width="0.4" height="4.2" fill="#fff"/>
<rect x="159.46" y="234.47" width="0.4" height="4.2" fill="#fff"/>
<rect x="174.52" y="234.47" width="0.4" height="4.2" fill="#fff"/>
<rect x="189.58" y="234.47" width="0.4" height="4.2" fill="#fff"/>
<rect x="204.64" y="234.47" width="0.4" height="4.2" fill="#fff"/>
<rect x="219.7" y="234.47" width="0.4" height="4.2" fill="#fff"/>
<rect x="234.76" y="234.47" width="0.4" height="4.2" fill="#fff"/>
<rect x="250.22" y="234.47" width="29.72" height="4.2" fill="#c4d3b1"/>
<rect x="264.88" y="234.47" width="0.4" height="4.2" fill="#fff"/>
<rect x="280.34" y="234.47" width="14.66" height="4.2" fill="#b5b3bb"/>
<rect x="295.4" y="234.47" width="14.66" height="4.2" fill="#026a50"/>
<rect x="310.46" y="234.47" width="29.72" height="4.2" fill="#b5b3bb"/>
<rect x="325.12" y="234.47" width="0.4" height="4.2" fill="#fff"/>
<text transform="translate(343.6 238.47) scale(0.95 1)" font-size="7" font-style="italic" fill="#262626" stroke="#262626" stroke-width="0.12">U2AF1</text>
<rect x="401.1" y="235.07" width="1.5" height="3" fill="#026a50"/>
<rect x="69.5" y="240.89" width="89.96" height="4.2" fill="#b5b3bb"/>
<rect x="84.16" y="240.89" width="0.4" height="4.2" fill="#fff"/>
<rect x="99.22" y="240.89" width="0.4" height="4.2" fill="#fff"/>
<rect x="114.28" y="240.89" width="0.4" height="4.2" fill="#fff"/>
<rect x="129.34" y="240.89" width="0.4" height="4.2" fill="#fff"/>
<rect x="144.4" y="240.89" width="0.4" height="4.2" fill="#fff"/>
<rect x="159.86" y="240.89" width="14.66" height="4.2" fill="#e18e98"/>
<rect x="174.92" y="240.89" width="74.9" height="4.2" fill="#b5b3bb"/>
<rect x="189.58" y="240.89" width="0.4" height="4.2" fill="#fff"/>
<rect x="204.64" y="240.89" width="0.4" height="4.2" fill="#fff"/>
<rect x="219.7" y="240.89" width="0.4" height="4.2" fill="#fff"/>
<rect x="234.76" y="240.89" width="0.4" height="4.2" fill="#fff"/>
<rect x="250.22" y="240.89" width="29.72" height="4.2" fill="#c4d3b1"/>
<rect x="264.88" y="240.89" width="0.4" height="4.2" fill="#fff"/>
<rect x="280.34" y="240.89" width="14.66" height="4.2" fill="#b5b3bb"/>
<rect x="295.4" y="240.89" width="14.66" height="4.2" fill="#e18e98"/>
<rect x="310.46" y="240.89" width="29.72" height="4.2" fill="#b5b3bb"/>
<rect x="325.12" y="240.89" width="0.4" height="4.2" fill="#fff"/>
<text transform="translate(343.6 244.89) scale(0.95 1)" font-size="7" font-style="italic" fill="#262626" stroke="#262626" stroke-width="0.12">RNA processing</text>
<rect x="401.1" y="241.49" width="3" height="3" fill="#e18e98"/>
<text x="65" y="270.6" text-anchor="end" font-size="8.5" fill="#3a3a3a" textLength="49.7" lengthAdjust="spacingAndGlyphs">Cell Adhesion</text>
<rect x="69.5" y="251.05" width="59.84" height="4.2" fill="#b5b3bb"/>
<rect x="84.16" y="251.05" width="0.4" height="4.2" fill="#fff"/>
<rect x="99.22" y="251.05" width="0.4" height="4.2" fill="#fff"/>
<rect x="114.28" y="251.05" width="0.4" height="4.2" fill="#fff"/>
<rect x="129.74" y="251.05" width="29.72" height="4.2" fill="#c4d3b1"/>
<rect x="144.4" y="251.05" width="0.4" height="4.2" fill="#fff"/>
<rect x="159.86" y="251.05" width="29.72" height="4.2" fill="#b5b3bb"/>
<rect x="174.52" y="251.05" width="0.4" height="4.2" fill="#fff"/>
<rect x="189.98" y="251.05" width="14.66" height="4.2" fill="#026a50"/>
<rect x="205.04" y="251.05" width="44.78" height="4.2" fill="#b5b3bb"/>
<rect x="219.7" y="251.05" width="0.4" height="4.2" fill="#fff"/>
<rect x="234.76" y="251.05" width="0.4" height="4.2" fill="#fff"/>
<rect x="250.22" y="251.05" width="44.78" height="4.2" fill="#c4d3b1"/>
<rect x="264.88" y="251.05" width="0.4" height="4.2" fill="#fff"/>
<rect x="279.94" y="251.05" width="0.4" height="4.2" fill="#fff"/>
<rect x="295.4" y="251.05" width="29.72" height="4.2" fill="#b5b3bb"/>
<rect x="310.06" y="251.05" width="0.4" height="4.2" fill="#fff"/>
<rect x="325.52" y="251.05" width="14.66" height="4.2" fill="#c4d3b1"/>
<text transform="translate(343.6 255.05) scale(0.95 1)" font-size="7" font-style="italic" fill="#262626" stroke="#262626" stroke-width="0.12">FAT4</text>
<rect x="401.1" y="251.65" width="1.5" height="3" fill="#026a50"/>
<rect x="69.5" y="257.47" width="14.66" height="4.2" fill="#b5b3bb"/>
<rect x="84.56" y="257.47" width="14.66" height="4.2" fill="#42b252"/>
<rect x="99.62" y="257.47" width="29.72" height="4.2" fill="#b5b3bb"/>
<rect x="114.28" y="257.47" width="0.4" height="4.2" fill="#fff"/>
<rect x="129.74" y="257.47" width="29.72" height="4.2" fill="#c4d3b1"/>
<rect x="144.4" y="257.47" width="0.4" height="4.2" fill="#fff"/>
<rect x="159.86" y="257.47" width="89.96" height="4.2" fill="#b5b3bb"/>
<rect x="174.52" y="257.47" width="0.4" height="4.2" fill="#fff"/>
<rect x="189.58" y="257.47" width="0.4" height="4.2" fill="#fff"/>
<rect x="204.64" y="257.47" width="0.4" height="4.2" fill="#fff"/>
<rect x="219.7" y="257.47" width="0.4" height="4.2" fill="#fff"/>
<rect x="234.76" y="257.47" width="0.4" height="4.2" fill="#fff"/>
<rect x="250.22" y="257.47" width="44.78" height="4.2" fill="#c4d3b1"/>
<rect x="264.88" y="257.47" width="0.4" height="4.2" fill="#fff"/>
<rect x="279.94" y="257.47" width="0.4" height="4.2" fill="#fff"/>
<rect x="295.4" y="257.47" width="29.72" height="4.2" fill="#b5b3bb"/>
<rect x="310.06" y="257.47" width="0.4" height="4.2" fill="#fff"/>
<rect x="325.52" y="257.47" width="14.66" height="4.2" fill="#c4d3b1"/>
<text transform="translate(343.6 261.47) scale(0.95 1)" font-size="7" font-style="italic" fill="#262626" stroke="#262626" stroke-width="0.12">FAT2</text>
<rect x="401.1" y="258.07" width="1.5" height="3" fill="#42b252"/>
<rect x="69.5" y="263.89" width="44.78" height="4.2" fill="#b5b3bb"/>
<rect x="84.16" y="263.89" width="0.4" height="4.2" fill="#fff"/>
<rect x="99.22" y="263.89" width="0.4" height="4.2" fill="#fff"/>
<rect x="114.68" y="263.89" width="14.66" height="4.2" fill="#026a50"/>
<rect x="129.74" y="263.89" width="29.72" height="4.2" fill="#c4d3b1"/>
<rect x="144.4" y="263.89" width="0.4" height="4.2" fill="#fff"/>
<rect x="159.86" y="263.89" width="89.96" height="4.2" fill="#b5b3bb"/>
<rect x="174.52" y="263.89" width="0.4" height="4.2" fill="#fff"/>
<rect x="189.58" y="263.89" width="0.4" height="4.2" fill="#fff"/>
<rect x="204.64" y="263.89" width="0.4" height="4.2" fill="#fff"/>
<rect x="219.7" y="263.89" width="0.4" height="4.2" fill="#fff"/>
<rect x="234.76" y="263.89" width="0.4" height="4.2" fill="#fff"/>
<rect x="250.22" y="263.89" width="44.78" height="4.2" fill="#c4d3b1"/>
<rect x="264.88" y="263.89" width="0.4" height="4.2" fill="#fff"/>
<rect x="279.94" y="263.89" width="0.4" height="4.2" fill="#fff"/>
<rect x="295.4" y="263.89" width="29.72" height="4.2" fill="#b5b3bb"/>
<rect x="310.06" y="263.89" width="0.4" height="4.2" fill="#fff"/>
<rect x="325.52" y="263.89" width="14.66" height="4.2" fill="#c4d3b1"/>
<text transform="translate(343.6 267.89) scale(0.95 1)" font-size="7" font-style="italic" fill="#262626" stroke="#262626" stroke-width="0.12">EZR</text>
<rect x="401.1" y="264.49" width="1.5" height="3" fill="#026a50"/>
<rect x="69.5" y="270.31" width="44.78" height="4.2" fill="#b5b3bb"/>
<rect x="84.16" y="270.31" width="0.4" height="4.2" fill="#fff"/>
<rect x="99.22" y="270.31" width="0.4" height="4.2" fill="#fff"/>
<rect x="114.68" y="270.31" width="14.66" height="4.2" fill="#026a50"/>
<rect x="129.74" y="270.31" width="29.72" height="4.2" fill="#c4d3b1"/>
<rect x="144.4" y="270.31" width="0.4" height="4.2" fill="#fff"/>
<rect x="159.86" y="270.31" width="89.96" height="4.2" fill="#b5b3bb"/>
<rect x="174.52" y="270.31" width="0.4" height="4.2" fill="#fff"/>
<rect x="189.58" y="270.31" width="0.4" height="4.2" fill="#fff"/>
<rect x="204.64" y="270.31" width="0.4" height="4.2" fill="#fff"/>
<rect x="219.7" y="270.31" width="0.4" height="4.2" fill="#fff"/>
<rect x="234.76" y="270.31" width="0.4" height="4.2" fill="#fff"/>
<rect x="250.22" y="270.31" width="44.78" height="4.2" fill="#c4d3b1"/>
<rect x="264.88" y="270.31" width="0.4" height="4.2" fill="#fff"/>
<rect x="279.94" y="270.31" width="0.4" height="4.2" fill="#fff"/>
<rect x="295.4" y="270.31" width="29.72" height="4.2" fill="#b5b3bb"/>
<rect x="310.06" y="270.31" width="0.4" height="4.2" fill="#fff"/>
<rect x="325.52" y="270.31" width="14.66" height="4.2" fill="#c4d3b1"/>
<text transform="translate(343.6 274.31) scale(0.95 1)" font-size="7" font-style="italic" fill="#262626" stroke="#262626" stroke-width="0.12">BOC</text>
<rect x="401.1" y="270.91" width="1.5" height="3" fill="#026a50"/>
<rect x="69.5" y="276.73" width="44.78" height="4.2" fill="#b5b3bb"/>
<rect x="84.16" y="276.73" width="0.4" height="4.2" fill="#fff"/>
<rect x="99.22" y="276.73" width="0.4" height="4.2" fill="#fff"/>
<rect x="114.68" y="276.73" width="14.66" height="4.2" fill="#026a50"/>
<rect x="129.74" y="276.73" width="29.72" height="4.2" fill="#c4d3b1"/>
<rect x="144.4" y="276.73" width="0.4" height="4.2" fill="#fff"/>
<rect x="159.86" y="276.73" width="89.96" height="4.2" fill="#b5b3bb"/>
<rect x="174.52" y="276.73" width="0.4" height="4.2" fill="#fff"/>
<rect x="189.58" y="276.73" width="0.4" height="4.2" fill="#fff"/>
<rect x="204.64" y="276.73" width="0.4" height="4.2" fill="#fff"/>
<rect x="219.7" y="276.73" width="0.4" height="4.2" fill="#fff"/>
<rect x="234.76" y="276.73" width="0.4" height="4.2" fill="#fff"/>
<rect x="250.22" y="276.73" width="44.78" height="4.2" fill="#c4d3b1"/>
<rect x="264.88" y="276.73" width="0.4" height="4.2" fill="#fff"/>
<rect x="279.94" y="276.73" width="0.4" height="4.2" fill="#fff"/>
<rect x="295.4" y="276.73" width="29.72" height="4.2" fill="#b5b3bb"/>
<rect x="310.06" y="276.73" width="0.4" height="4.2" fill="#fff"/>
<rect x="325.52" y="276.73" width="14.66" height="4.2" fill="#c4d3b1"/>
<text transform="translate(343.6 280.73) scale(0.95 1)" font-size="7" font-style="italic" fill="#262626" stroke="#262626" stroke-width="0.12">CDH1</text>
<rect x="401.1" y="277.33" width="1.5" height="3" fill="#026a50"/>
<rect x="69.5" y="283.15" width="44.78" height="4.2" fill="#b5b3bb"/>
<rect x="84.16" y="283.15" width="0.4" height="4.2" fill="#fff"/>
<rect x="99.22" y="283.15" width="0.4" height="4.2" fill="#fff"/>
<rect x="114.68" y="283.15" width="14.66" height="4.2" fill="#026a50"/>
<rect x="129.74" y="283.15" width="29.72" height="4.2" fill="#c4d3b1"/>
<rect x="144.4" y="283.15" width="0.4" height="4.2" fill="#fff"/>
<rect x="159.86" y="283.15" width="89.96" height="4.2" fill="#b5b3bb"/>
<rect x="174.52" y="283.15" width="0.4" height="4.2" fill="#fff"/>
<rect x="189.58" y="283.15" width="0.4" height="4.2" fill="#fff"/>
<rect x="204.64" y="283.15" width="0.4" height="4.2" fill="#fff"/>
<rect x="219.7" y="283.15" width="0.4" height="4.2" fill="#fff"/>
<rect x="234.76" y="283.15" width="0.4" height="4.2" fill="#fff"/>
<rect x="250.22" y="283.15" width="44.78" height="4.2" fill="#c4d3b1"/>
<rect x="264.88" y="283.15" width="0.4" height="4.2" fill="#fff"/>
<rect x="279.94" y="283.15" width="0.4" height="4.2" fill="#fff"/>
<rect x="295.4" y="283.15" width="29.72" height="4.2" fill="#b5b3bb"/>
<rect x="310.06" y="283.15" width="0.4" height="4.2" fill="#fff"/>
<rect x="325.52" y="283.15" width="14.66" height="4.2" fill="#c4d3b1"/>
<text transform="translate(343.6 287.15) scale(0.95 1)" font-size="7" font-style="italic" fill="#262626" stroke="#262626" stroke-width="0.12">CDH10</text>
<rect x="401.1" y="283.75" width="1.5" height="3" fill="#026a50"/>
<rect x="69.5" y="289.57" width="14.66" height="4.2" fill="#b5b3bb"/>
<rect x="84.56" y="289.57" width="14.66" height="4.2" fill="#e18e98"/>
<rect x="99.62" y="289.57" width="14.66" height="4.2" fill="#b5b3bb"/>
<rect x="114.68" y="289.57" width="14.66" height="4.2" fill="#5a3413"/>
<rect x="129.74" y="289.57" width="29.72" height="4.2" fill="#c4d3b1"/>
<rect x="144.4" y="289.57" width="0.4" height="4.2" fill="#fff"/>
<rect x="159.86" y="289.57" width="29.72" height="4.2" fill="#b5b3bb"/>
<rect x="174.52" y="289.57" width="0.4" height="4.2" fill="#fff"/>
<rect x="189.98" y="289.57" width="14.66" height="4.2" fill="#e18e98"/>
<rect x="205.04" y="289.57" width="44.78" height="4.2" fill="#b5b3bb"/>
<rect x="219.7" y="289.57" width="0.4" height="4.2" fill="#fff"/>
<rect x="234.76" y="289.57" width="0.4" height="4.2" fill="#fff"/>
<rect x="250.22" y="289.57" width="44.78" height="4.2" fill="#c4d3b1"/>
<rect x="264.88" y="289.57" width="0.4" height="4.2" fill="#fff"/>
<rect x="279.94" y="289.57" width="0.4" height="4.2" fill="#fff"/>
<rect x="295.4" y="289.57" width="29.72" height="4.2" fill="#b5b3bb"/>
<rect x="310.06" y="289.57" width="0.4" height="4.2" fill="#fff"/>
<rect x="325.52" y="289.57" width="14.66" height="4.2" fill="#c4d3b1"/>
<text transform="translate(343.6 293.57) scale(0.95 1)" font-size="7" font-style="italic" fill="#262626" stroke="#262626" stroke-width="0.12">Cell Adhesion</text>
<rect x="401.1" y="290.17" width="3" height="3" fill="#e18e98"/>
<rect x="404.1" y="290.17" width="1.5" height="3" fill="#5a3413"/>
<text x="65" y="313.7" text-anchor="end" font-size="8.5" fill="#3a3a3a" textLength="35.2" lengthAdjust="spacingAndGlyphs">Cell Cycle</text>
<rect x="69.5" y="299.65" width="59.84" height="4.2" fill="#b5b3bb"/>
<rect x="84.16" y="299.65" width="0.4" height="4.2" fill="#fff"/>
<rect x="99.22" y="299.65" width="0.4" height="4.2" fill="#fff"/>
<rect x="114.28" y="299.65" width="0.4" height="4.2" fill="#fff"/>
<rect x="129.74" y="299.65" width="29.72" height="4.2" fill="#c4d3b1"/>
<rect x="144.4" y="299.65" width="0.4" height="4.2" fill="#fff"/>
<rect x="159.86" y="299.65" width="14.66" height="4.2" fill="#b5b3bb"/>
<rect x="174.92" y="299.65" width="14.66" height="4.2" fill="#026a50"/>
<rect x="189.98" y="299.65" width="29.72" height="4.2" fill="#b5b3bb"/>
<rect x="204.64" y="299.65" width="0.4" height="4.2" fill="#fff"/>
<rect x="220.1" y="299.65" width="14.66" height="4.2" fill="#026a50"/>
<rect x="235.16" y="299.65" width="14.66" height="4.2" fill="#b5b3bb"/>
<rect x="250.22" y="299.65" width="44.78" height="4.2" fill="#c4d3b1"/>
<rect x="264.88" y="299.65" width="0.4" height="4.2" fill="#fff"/>
<rect x="279.94" y="299.65" width="0.4" height="4.2" fill="#fff"/>
<rect x="295.4" y="299.65" width="29.72" height="4.2" fill="#b5b3bb"/>
<rect x="310.06" y="299.65" width="0.4" height="4.2" fill="#fff"/>
<rect x="325.52" y="299.65" width="14.66" height="4.2" fill="#c4d3b1"/>
<text transform="translate(343.6 303.65) scale(0.95 1)" font-size="7" font-style="italic" fill="#262626" stroke="#262626" stroke-width="0.12">CDKN2A</text>
<rect x="401.1" y="300.25" width="3" height="3" fill="#026a50"/>
<rect x="69.5" y="306.07" width="59.84" height="4.2" fill="#b5b3bb"/>
<rect x="84.16" y="306.07" width="0.4" height="4.2" fill="#fff"/>
<rect x="99.22" y="306.07" width="0.4" height="4.2" fill="#fff"/>
<rect x="114.28" y="306.07" width="0.4" height="4.2" fill="#fff"/>
<rect x="129.74" y="306.07" width="29.72" height="4.2" fill="#c4d3b1"/>
<rect x="144.4" y="306.07" width="0.4" height="4.2" fill="#fff"/>
<rect x="159.86" y="306.07" width="74.9" height="4.2" fill="#b5b3bb"/>
<rect x="174.52" y="306.07" width="0.4" height="4.2" fill="#fff"/>
<rect x="189.58" y="306.07" width="0.4" height="4.2" fill="#fff"/>
<rect x="204.64" y="306.07" width="0.4" height="4.2" fill="#fff"/>
<rect x="219.7" y="306.07" width="0.4" height="4.2" fill="#fff"/>
<rect x="235.16" y="306.07" width="14.66" height="4.2" fill="#42b252"/>
<rect x="250.22" y="306.07" width="44.78" height="4.2" fill="#c4d3b1"/>
<rect x="264.88" y="306.07" width="0.4" height="4.2" fill="#fff"/>
<rect x="279.94" y="306.07" width="0.4" height="4.2" fill="#fff"/>
<rect x="295.4" y="306.07" width="29.72" height="4.2" fill="#b5b3bb"/>
<rect x="310.06" y="306.07" width="0.4" height="4.2" fill="#fff"/>
<rect x="325.52" y="306.07" width="14.66" height="4.2" fill="#c4d3b1"/>
<text transform="translate(343.6 310.07) scale(0.95 1)" font-size="7" font-style="italic" fill="#262626" stroke="#262626" stroke-width="0.12">RB1</text>
<rect x="401.1" y="306.67" width="1.5" height="3" fill="#42b252"/>
<rect x="69.5" y="312.49" width="59.84" height="4.2" fill="#b5b3bb"/>
<rect x="84.16" y="312.49" width="0.4" height="4.2" fill="#fff"/>
<rect x="99.22" y="312.49" width="0.4" height="4.2" fill="#fff"/>
<rect x="114.28" y="312.49" width="0.4" height="4.2" fill="#fff"/>
<rect x="129.74" y="312.49" width="29.72" height="4.2" fill="#c4d3b1"/>
<rect x="144.4" y="312.49" width="0.4" height="4.2" fill="#fff"/>
<rect x="159.86" y="312.49" width="59.84" height="4.2" fill="#b5b3bb"/>
<rect x="174.52" y="312.49" width="0.4" height="4.2" fill="#fff"/>
<rect x="189.58" y="312.49" width="0.4" height="4.2" fill="#fff"/>
<rect x="204.64" y="312.49" width="0.4" height="4.2" fill="#fff"/>
<rect x="220.1" y="312.49" width="14.66" height="4.2" fill="#026a50"/>
<rect x="235.16" y="312.49" width="14.66" height="4.2" fill="#b5b3bb"/>
<rect x="250.22" y="312.49" width="44.78" height="4.2" fill="#c4d3b1"/>
<rect x="264.88" y="312.49" width="0.4" height="4.2" fill="#fff"/>
<rect x="279.94" y="312.49" width="0.4" height="4.2" fill="#fff"/>
<rect x="295.4" y="312.49" width="29.72" height="4.2" fill="#b5b3bb"/>
<rect x="310.06" y="312.49" width="0.4" height="4.2" fill="#fff"/>
<rect x="325.52" y="312.49" width="14.66" height="4.2" fill="#c4d3b1"/>
<text transform="translate(343.6 316.49) scale(0.95 1)" font-size="7" font-style="italic" fill="#262626" stroke="#262626" stroke-width="0.12">NUMA1</text>
<rect x="401.1" y="313.09" width="1.5" height="3" fill="#026a50"/>
<rect x="69.5" y="318.91" width="59.84" height="4.2" fill="#b5b3bb"/>
<rect x="84.16" y="318.91" width="0.4" height="4.2" fill="#fff"/>
<rect x="99.22" y="318.91" width="0.4" height="4.2" fill="#fff"/>
<rect x="114.28" y="318.91" width="0.4" height="4.2" fill="#fff"/>
<rect x="129.74" y="318.91" width="29.72" height="4.2" fill="#c4d3b1"/>
<rect x="144.4" y="318.91" width="0.4" height="4.2" fill="#fff"/>
<rect x="159.86" y="318.91" width="74.9" height="4.2" fill="#b5b3bb"/>
<rect x="174.52" y="318.91" width="0.4" height="4.2" fill="#fff"/>
<rect x="189.58" y="318.91" width="0.4" height="4.2" fill="#fff"/>
<rect x="204.64" y="318.91" width="0.4" height="4.2" fill="#fff"/>
<rect x="219.7" y="318.91" width="0.4" height="4.2" fill="#fff"/>
<rect x="235.16" y="318.91" width="14.66" height="4.2" fill="#42b252"/>
<rect x="250.22" y="318.91" width="44.78" height="4.2" fill="#c4d3b1"/>
<rect x="264.88" y="318.91" width="0.4" height="4.2" fill="#fff"/>
<rect x="279.94" y="318.91" width="0.4" height="4.2" fill="#fff"/>
<rect x="295.4" y="318.91" width="29.72" height="4.2" fill="#b5b3bb"/>
<rect x="310.06" y="318.91" width="0.4" height="4.2" fill="#fff"/>
<rect x="325.52" y="318.91" width="14.66" height="4.2" fill="#c4d3b1"/>
<text transform="translate(343.6 322.91) scale(0.95 1)" font-size="7" font-style="italic" fill="#262626" stroke="#262626" stroke-width="0.12">LATS1</text>
<rect x="401.1" y="319.51" width="1.5" height="3" fill="#42b252"/>
<rect x="69.5" y="325.33" width="59.84" height="4.2" fill="#b5b3bb"/>
<rect x="84.16" y="325.33" width="0.4" height="4.2" fill="#fff"/>
<rect x="99.22" y="325.33" width="0.4" height="4.2" fill="#fff"/>
<rect x="114.28" y="325.33" width="0.4" height="4.2" fill="#fff"/>
<rect x="129.74" y="325.33" width="29.72" height="4.2" fill="#c4d3b1"/>
<rect x="144.4" y="325.33" width="0.4" height="4.2" fill="#fff"/>
<rect x="159.86" y="325.33" width="14.66" height="4.2" fill="#b5b3bb"/>
<rect x="174.92" y="325.33" width="14.66" height="4.2" fill="#e18e98"/>
<rect x="189.98" y="325.33" width="29.72" height="4.2" fill="#b5b3bb"/>
<rect x="204.64" y="325.33" width="0.4" height="4.2" fill="#fff"/>
<rect x="220.1" y="325.33" width="29.72" height="4.2" fill="#5a3413"/>
<rect x="234.76" y="325.33" width="0.4" height="4.2" fill="#fff"/>
<rect x="250.22" y="325.33" width="44.78" height="4.2" fill="#c4d3b1"/>
<rect x="264.88" y="325.33" width="0.4" height="4.2" fill="#fff"/>
<rect x="279.94" y="325.33" width="0.4" height="4.2" fill="#fff"/>
<rect x="295.4" y="325.33" width="29.72" height="4.2" fill="#b5b3bb"/>
<rect x="310.06" y="325.33" width="0.4" height="4.2" fill="#fff"/>
<rect x="325.52" y="325.33" width="14.66" height="4.2" fill="#c4d3b1"/>
<text transform="translate(343.6 329.33) scale(0.95 1)" font-size="7" font-style="italic" fill="#262626" stroke="#262626" stroke-width="0.12">Cell Cycle</text>
<rect x="401.1" y="325.93" width="1.5" height="3" fill="#e18e98"/>
<rect x="402.6" y="325.93" width="3" height="3" fill="#5a3413"/>
<text x="65" y="352.4" text-anchor="end" font-size="8.5" fill="#3a3a3a" textLength="45.5" lengthAdjust="spacingAndGlyphs">Transcription</text>
<rect x="69.5" y="335.15" width="59.84" height="4.2" fill="#b5b3bb"/>
<rect x="84.16" y="335.15" width="0.4" height="4.2" fill="#fff"/>
<rect x="99.22" y="335.15" width="0.4" height="4.2" fill="#fff"/>
<rect x="114.28" y="335.15" width="0.4" height="4.2" fill="#fff"/>
<rect x="129.74" y="335.15" width="14.66" height="4.2" fill="#42b252"/>
<rect x="144.8" y="335.15" width="14.66" height="4.2" fill="#026a50"/>
<rect x="159.86" y="335.15" width="89.96" height="4.2" fill="#b5b3bb"/>
<rect x="174.52" y="335.15" width="0.4" height="4.2" fill="#fff"/>
<rect x="189.58" y="335.15" width="0.4" height="4.2" fill="#fff"/>
<rect x="204.64" y="335.15" width="0.4" height="4.2" fill="#fff"/>
<rect x="219.7" y="335.15" width="0.4" height="4.2" fill="#fff"/>
<rect x="234.76" y="335.15" width="0.4" height="4.2" fill="#fff"/>
<rect x="250.22" y="335.15" width="29.72" height="4.2" fill="#c4d3b1"/>
<rect x="264.88" y="335.15" width="0.4" height="4.2" fill="#fff"/>
<rect x="280.34" y="335.15" width="29.72" height="4.2" fill="#b5b3bb"/>
<rect x="295" y="335.15" width="0.4" height="4.2" fill="#fff"/>
<rect x="310.46" y="335.15" width="14.66" height="4.2" fill="#026a50"/>
<rect x="325.52" y="335.15" width="14.66" height="4.2" fill="#b5b3bb"/>
<text transform="translate(343.6 339.15) scale(0.95 1)" font-size="7" font-style="italic" fill="#262626" stroke="#262626" stroke-width="0.12">RUNX1</text>
<rect x="401.1" y="335.75" width="1.5" height="3" fill="#42b252"/>
<rect x="402.6" y="335.75" width="3" height="3" fill="#026a50"/>
<rect x="69.5" y="341.57" width="14.66" height="4.2" fill="#b5b3bb"/>
<rect x="84.56" y="341.57" width="14.66" height="4.2" fill="#42b252"/>
<rect x="99.62" y="341.57" width="29.72" height="4.2" fill="#b5b3bb"/>
<rect x="114.28" y="341.57" width="0.4" height="4.2" fill="#fff"/>
<rect x="129.74" y="341.57" width="29.72" height="4.2" fill="#c4d3b1"/>
<rect x="144.4" y="341.57" width="0.4" height="4.2" fill="#fff"/>
<rect x="159.86" y="341.57" width="89.96" height="4.2" fill="#b5b3bb"/>
<rect x="174.52" y="341.57" width="0.4" height="4.2" fill="#fff"/>
<rect x="189.58" y="341.57" width="0.4" height="4.2" fill="#fff"/>
<rect x="204.64" y="341.57" width="0.4" height="4.2" fill="#fff"/>
<rect x="219.7" y="341.57" width="0.4" height="4.2" fill="#fff"/>
<rect x="234.76" y="341.57" width="0.4" height="4.2" fill="#fff"/>
<rect x="250.22" y="341.57" width="44.78" height="4.2" fill="#c4d3b1"/>
<rect x="264.88" y="341.57" width="0.4" height="4.2" fill="#fff"/>
<rect x="279.94" y="341.57" width="0.4" height="4.2" fill="#fff"/>
<rect x="295.4" y="341.57" width="29.72" height="4.2" fill="#b5b3bb"/>
<rect x="310.06" y="341.57" width="0.4" height="4.2" fill="#fff"/>
<rect x="325.52" y="341.57" width="14.66" height="4.2" fill="#c4d3b1"/>
<text transform="translate(343.6 345.57) scale(0.95 1)" font-size="7" font-style="italic" fill="#262626" stroke="#262626" stroke-width="0.12">HOXA1</text>
<rect x="401.1" y="342.17" width="1.5" height="3" fill="#42b252"/>
<rect x="69.5" y="347.99" width="29.72" height="4.2" fill="#b5b3bb"/>
<rect x="84.16" y="347.99" width="0.4" height="4.2" fill="#fff"/>
<rect x="99.62" y="347.99" width="14.66" height="4.2" fill="#42b252"/>
<rect x="114.68" y="347.99" width="14.66" height="4.2" fill="#b5b3bb"/>
<rect x="129.74" y="347.99" width="29.72" height="4.2" fill="#c4d3b1"/>
<rect x="144.4" y="347.99" width="0.4" height="4.2" fill="#fff"/>
<rect x="159.86" y="347.99" width="89.96" height="4.2" fill="#b5b3bb"/>
<rect x="174.52" y="347.99" width="0.4" height="4.2" fill="#fff"/>
<rect x="189.58" y="347.99" width="0.4" height="4.2" fill="#fff"/>
<rect x="204.64" y="347.99" width="0.4" height="4.2" fill="#fff"/>
<rect x="219.7" y="347.99" width="0.4" height="4.2" fill="#fff"/>
<rect x="234.76" y="347.99" width="0.4" height="4.2" fill="#fff"/>
<rect x="250.22" y="347.99" width="44.78" height="4.2" fill="#c4d3b1"/>
<rect x="264.88" y="347.99" width="0.4" height="4.2" fill="#fff"/>
<rect x="279.94" y="347.99" width="0.4" height="4.2" fill="#fff"/>
<rect x="295.4" y="347.99" width="29.72" height="4.2" fill="#b5b3bb"/>
<rect x="310.06" y="347.99" width="0.4" height="4.2" fill="#fff"/>
<rect x="325.52" y="347.99" width="14.66" height="4.2" fill="#c4d3b1"/>
<text transform="translate(343.6 351.99) scale(0.95 1)" font-size="7" font-style="italic" fill="#262626" stroke="#262626" stroke-width="0.12">MSI2</text>
<rect x="401.1" y="348.59" width="1.5" height="3" fill="#42b252"/>
<rect x="69.5" y="354.41" width="44.78" height="4.2" fill="#b5b3bb"/>
<rect x="84.16" y="354.41" width="0.4" height="4.2" fill="#fff"/>
<rect x="99.22" y="354.41" width="0.4" height="4.2" fill="#fff"/>
<rect x="114.68" y="354.41" width="14.66" height="4.2" fill="#026a50"/>
<rect x="129.74" y="354.41" width="29.72" height="4.2" fill="#c4d3b1"/>
<rect x="144.4" y="354.41" width="0.4" height="4.2" fill="#fff"/>
<rect x="159.86" y="354.41" width="89.96" height="4.2" fill="#b5b3bb"/>
<rect x="174.52" y="354.41" width="0.4" height="4.2" fill="#fff"/>
<rect x="189.58" y="354.41" width="0.4" height="4.2" fill="#fff"/>
<rect x="204.64" y="354.41" width="0.4" height="4.2" fill="#fff"/>
<rect x="219.7" y="354.41" width="0.4" height="4.2" fill="#fff"/>
<rect x="234.76" y="354.41" width="0.4" height="4.2" fill="#fff"/>
<rect x="250.22" y="354.41" width="44.78" height="4.2" fill="#c4d3b1"/>
<rect x="264.88" y="354.41" width="0.4" height="4.2" fill="#fff"/>
<rect x="279.94" y="354.41" width="0.4" height="4.2" fill="#fff"/>
<rect x="295.4" y="354.41" width="29.72" height="4.2" fill="#b5b3bb"/>
<rect x="310.06" y="354.41" width="0.4" height="4.2" fill="#fff"/>
<rect x="325.52" y="354.41" width="14.66" height="4.2" fill="#c4d3b1"/>
<text transform="translate(343.6 358.41) scale(0.95 1)" font-size="7" font-style="italic" fill="#262626" stroke="#262626" stroke-width="0.12">ZNF557</text>
<rect x="401.1" y="355.01" width="1.5" height="3" fill="#026a50"/>
<rect x="69.5" y="360.83" width="59.84" height="4.2" fill="#b5b3bb"/>
<rect x="84.16" y="360.83" width="0.4" height="4.2" fill="#fff"/>
<rect x="99.22" y="360.83" width="0.4" height="4.2" fill="#fff"/>
<rect x="114.28" y="360.83" width="0.4" height="4.2" fill="#fff"/>
<rect x="129.74" y="360.83" width="29.72" height="4.2" fill="#c4d3b1"/>
<rect x="144.4" y="360.83" width="0.4" height="4.2" fill="#fff"/>
<rect x="159.86" y="360.83" width="29.72" height="4.2" fill="#b5b3bb"/>
<rect x="174.52" y="360.83" width="0.4" height="4.2" fill="#fff"/>
<rect x="189.98" y="360.83" width="14.66" height="4.2" fill="#026a50"/>
<rect x="205.04" y="360.83" width="44.78" height="4.2" fill="#b5b3bb"/>
<rect x="219.7" y="360.83" width="0.4" height="4.2" fill="#fff"/>
<rect x="234.76" y="360.83" width="0.4" height="4.2" fill="#fff"/>
<rect x="250.22" y="360.83" width="44.78" height="4.2" fill="#c4d3b1"/>
<rect x="264.88" y="360.83" width="0.4" height="4.2" fill="#fff"/>
<rect x="279.94" y="360.83" width="0.4" height="4.2" fill="#fff"/>
<rect x="295.4" y="360.83" width="29.72" height="4.2" fill="#b5b3bb"/>
<rect x="310.06" y="360.83" width="0.4" height="4.2" fill="#fff"/>
<rect x="325.52" y="360.83" width="14.66" height="4.2" fill="#c4d3b1"/>
<text transform="translate(343.6 364.83) scale(0.95 1)" font-size="7" font-style="italic" fill="#262626" stroke="#262626" stroke-width="0.12">PRRX1</text>
<rect x="401.1" y="361.43" width="1.5" height="3" fill="#026a50"/>
<rect x="69.5" y="367.25" width="14.66" height="4.2" fill="#b5b3bb"/>
<rect x="84.56" y="367.25" width="74.9" height="4.2" fill="#e18e98"/>
<rect x="99.22" y="367.25" width="0.4" height="4.2" fill="#fff"/>
<rect x="114.28" y="367.25" width="0.4" height="4.2" fill="#fff"/>
<rect x="129.34" y="367.25" width="0.4" height="4.2" fill="#fff"/>
<rect x="144.4" y="367.25" width="0.4" height="4.2" fill="#fff"/>
<rect x="159.86" y="367.25" width="29.72" height="4.2" fill="#b5b3bb"/>
<rect x="174.52" y="367.25" width="0.4" height="4.2" fill="#fff"/>
<rect x="189.98" y="367.25" width="14.66" height="4.2" fill="#e18e98"/>
<rect x="205.04" y="367.25" width="44.78" height="4.2" fill="#b5b3bb"/>
<rect x="219.7" y="367.25" width="0.4" height="4.2" fill="#fff"/>
<rect x="234.76" y="367.25" width="0.4" height="4.2" fill="#fff"/>
<rect x="250.22" y="367.25" width="29.72" height="4.2" fill="#c4d3b1"/>
<rect x="264.88" y="367.25" width="0.4" height="4.2" fill="#fff"/>
<rect x="280.34" y="367.25" width="29.72" height="4.2" fill="#b5b3bb"/>
<rect x="295" y="367.25" width="0.4" height="4.2" fill="#fff"/>
<rect x="310.46" y="367.25" width="14.66" height="4.2" fill="#e18e98"/>
<rect x="325.52" y="367.25" width="14.66" height="4.2" fill="#b5b3bb"/>
<text transform="translate(343.6 371.25) scale(0.95 1)" font-size="7" font-style="italic" fill="#262626" stroke="#262626" stroke-width="0.12">Transcription</text>
<rect x="401.1" y="367.85" width="10.5" height="3" fill="#e18e98"/>
<text x="65" y="405.8" text-anchor="end" font-size="8.5" fill="#3a3a3a" textLength="20.9" lengthAdjust="spacingAndGlyphs">Other</text>
<rect x="69.5" y="377.45" width="59.84" height="4.2" fill="#b5b3bb"/>
<rect x="84.16" y="377.45" width="0.4" height="4.2" fill="#fff"/>
<rect x="99.22" y="377.45" width="0.4" height="4.2" fill="#fff"/>
<rect x="114.28" y="377.45" width="0.4" height="4.2" fill="#fff"/>
<rect x="129.74" y="377.45" width="29.72" height="4.2" fill="#c4d3b1"/>
<rect x="144.4" y="377.45" width="0.4" height="4.2" fill="#fff"/>
<rect x="159.86" y="377.45" width="44.78" height="4.2" fill="#b5b3bb"/>
<rect x="174.52" y="377.45" width="0.4" height="4.2" fill="#fff"/>
<rect x="189.58" y="377.45" width="0.4" height="4.2" fill="#fff"/>
<rect x="205.04" y="377.45" width="14.66" height="4.2" fill="#42b252"/>
<rect x="220.1" y="377.45" width="29.72" height="4.2" fill="#b5b3bb"/>
<rect x="234.76" y="377.45" width="0.4" height="4.2" fill="#fff"/>
<rect x="250.22" y="377.45" width="44.78" height="4.2" fill="#c4d3b1"/>
<rect x="264.88" y="377.45" width="0.4" height="4.2" fill="#fff"/>
<rect x="279.94" y="377.45" width="0.4" height="4.2" fill="#fff"/>
<rect x="295.4" y="377.45" width="29.72" height="4.2" fill="#b5b3bb"/>
<rect x="310.06" y="377.45" width="0.4" height="4.2" fill="#fff"/>
<rect x="325.52" y="377.45" width="14.66" height="4.2" fill="#c4d3b1"/>
<text transform="translate(343.6 381.45) scale(0.95 1)" font-size="7" font-style="italic" fill="#262626" stroke="#262626" stroke-width="0.12">TNFAIP3</text>
<rect x="401.1" y="378.05" width="1.5" height="3" fill="#42b252"/>
<rect x="69.5" y="383.87" width="29.72" height="4.2" fill="#b5b3bb"/>
<rect x="84.16" y="383.87" width="0.4" height="4.2" fill="#fff"/>
<rect x="99.62" y="383.87" width="14.66" height="4.2" fill="#42b252"/>
<rect x="114.68" y="383.87" width="14.66" height="4.2" fill="#b5b3bb"/>
<rect x="129.74" y="383.87" width="29.72" height="4.2" fill="#c4d3b1"/>
<rect x="144.4" y="383.87" width="0.4" height="4.2" fill="#fff"/>
<rect x="159.86" y="383.87" width="89.96" height="4.2" fill="#b5b3bb"/>
<rect x="174.52" y="383.87" width="0.4" height="4.2" fill="#fff"/>
<rect x="189.58" y="383.87" width="0.4" height="4.2" fill="#fff"/>
<rect x="204.64" y="383.87" width="0.4" height="4.2" fill="#fff"/>
<rect x="219.7" y="383.87" width="0.4" height="4.2" fill="#fff"/>
<rect x="234.76" y="383.87" width="0.4" height="4.2" fill="#fff"/>
<rect x="250.22" y="383.87" width="44.78" height="4.2" fill="#c4d3b1"/>
<rect x="264.88" y="383.87" width="0.4" height="4.2" fill="#fff"/>
<rect x="279.94" y="383.87" width="0.4" height="4.2" fill="#fff"/>
<rect x="295.4" y="383.87" width="29.72" height="4.2" fill="#b5b3bb"/>
<rect x="310.06" y="383.87" width="0.4" height="4.2" fill="#fff"/>
<rect x="325.52" y="383.87" width="14.66" height="4.2" fill="#c4d3b1"/>
<text transform="translate(343.6 387.87) scale(0.95 1)" font-size="7" font-style="italic" fill="#262626" stroke="#262626" stroke-width="0.12">TTN</text>
<rect x="401.1" y="384.47" width="1.5" height="3" fill="#42b252"/>
<rect x="69.5" y="390.29" width="14.66" height="4.2" fill="#42b252"/>
<rect x="84.56" y="390.29" width="44.78" height="4.2" fill="#b5b3bb"/>
<rect x="99.22" y="390.29" width="0.4" height="4.2" fill="#fff"/>
<rect x="114.28" y="390.29" width="0.4" height="4.2" fill="#fff"/>
<rect x="129.74" y="390.29" width="29.72" height="4.2" fill="#c4d3b1"/>
<rect x="144.4" y="390.29" width="0.4" height="4.2" fill="#fff"/>
<rect x="159.86" y="390.29" width="89.96" height="4.2" fill="#b5b3bb"/>
<rect x="174.52" y="390.29" width="0.4" height="4.2" fill="#fff"/>
<rect x="189.58" y="390.29" width="0.4" height="4.2" fill="#fff"/>
<rect x="204.64" y="390.29" width="0.4" height="4.2" fill="#fff"/>
<rect x="219.7" y="390.29" width="0.4" height="4.2" fill="#fff"/>
<rect x="234.76" y="390.29" width="0.4" height="4.2" fill="#fff"/>
<rect x="250.22" y="390.29" width="44.78" height="4.2" fill="#c4d3b1"/>
<rect x="264.88" y="390.29" width="0.4" height="4.2" fill="#fff"/>
<rect x="279.94" y="390.29" width="0.4" height="4.2" fill="#fff"/>
<rect x="295.4" y="390.29" width="29.72" height="4.2" fill="#b5b3bb"/>
<rect x="310.06" y="390.29" width="0.4" height="4.2" fill="#fff"/>
<rect x="325.52" y="390.29" width="14.66" height="4.2" fill="#c4d3b1"/>
<text transform="translate(343.6 394.29) scale(0.95 1)" font-size="7" font-style="italic" fill="#262626" stroke="#262626" stroke-width="0.12">ZMYM3</text>
<rect x="401.1" y="390.89" width="1.5" height="3" fill="#42b252"/>
<rect x="69.5" y="396.71" width="29.72" height="4.2" fill="#b5b3bb"/>
<rect x="84.16" y="396.71" width="0.4" height="4.2" fill="#fff"/>
<rect x="99.62" y="396.71" width="14.66" height="4.2" fill="#42b252"/>
<rect x="114.68" y="396.71" width="14.66" height="4.2" fill="#b5b3bb"/>
<rect x="129.74" y="396.71" width="29.72" height="4.2" fill="#c4d3b1"/>
<rect x="144.4" y="396.71" width="0.4" height="4.2" fill="#fff"/>
<rect x="159.86" y="396.71" width="89.96" height="4.2" fill="#b5b3bb"/>
<rect x="174.52" y="396.71" width="0.4" height="4.2" fill="#fff"/>
<rect x="189.58" y="396.71" width="0.4" height="4.2" fill="#fff"/>
<rect x="204.64" y="396.71" width="0.4" height="4.2" fill="#fff"/>
<rect x="219.7" y="396.71" width="0.4" height="4.2" fill="#fff"/>
<rect x="234.76" y="396.71" width="0.4" height="4.2" fill="#fff"/>
<rect x="250.22" y="396.71" width="44.78" height="4.2" fill="#c4d3b1"/>
<rect x="264.88" y="396.71" width="0.4" height="4.2" fill="#fff"/>
<rect x="279.94" y="396.71" width="0.4" height="4.2" fill="#fff"/>
<rect x="295.4" y="396.71" width="29.72" height="4.2" fill="#b5b3bb"/>
<rect x="310.06" y="396.71" width="0.4" height="4.2" fill="#fff"/>
<rect x="325.52" y="396.71" width="14.66" height="4.2" fill="#c4d3b1"/>
<text transform="translate(343.6 400.71) scale(0.95 1)" font-size="7" font-style="italic" fill="#262626" stroke="#262626" stroke-width="0.12">ATXN7L1</text>
<rect x="401.1" y="397.31" width="1.5" height="3" fill="#42b252"/>
<rect x="69.5" y="403.13" width="44.78" height="4.2" fill="#b5b3bb"/>
<rect x="84.16" y="403.13" width="0.4" height="4.2" fill="#fff"/>
<rect x="99.22" y="403.13" width="0.4" height="4.2" fill="#fff"/>
<rect x="114.68" y="403.13" width="14.66" height="4.2" fill="#026a50"/>
<rect x="129.74" y="403.13" width="29.72" height="4.2" fill="#c4d3b1"/>
<rect x="144.4" y="403.13" width="0.4" height="4.2" fill="#fff"/>
<rect x="159.86" y="403.13" width="89.96" height="4.2" fill="#b5b3bb"/>
<rect x="174.52" y="403.13" width="0.4" height="4.2" fill="#fff"/>
<rect x="189.58" y="403.13" width="0.4" height="4.2" fill="#fff"/>
<rect x="204.64" y="403.13" width="0.4" height="4.2" fill="#fff"/>
<rect x="219.7" y="403.13" width="0.4" height="4.2" fill="#fff"/>
<rect x="234.76" y="403.13" width="0.4" height="4.2" fill="#fff"/>
<rect x="250.22" y="403.13" width="44.78" height="4.2" fill="#c4d3b1"/>
<rect x="264.88" y="403.13" width="0.4" height="4.2" fill="#fff"/>
<rect x="279.94" y="403.13" width="0.4" height="4.2" fill="#fff"/>
<rect x="295.4" y="403.13" width="29.72" height="4.2" fill="#b5b3bb"/>
<rect x="310.06" y="403.13" width="0.4" height="4.2" fill="#fff"/>
<rect x="325.52" y="403.13" width="14.66" height="4.2" fill="#c4d3b1"/>
<text transform="translate(343.6 407.13) scale(0.95 1)" font-size="7" font-style="italic" fill="#262626" stroke="#262626" stroke-width="0.12">MDN1</text>
<rect x="401.1" y="403.73" width="1.5" height="3" fill="#026a50"/>
<rect x="69.5" y="409.55" width="44.78" height="4.2" fill="#b5b3bb"/>
<rect x="84.16" y="409.55" width="0.4" height="4.2" fill="#fff"/>
<rect x="99.22" y="409.55" width="0.4" height="4.2" fill="#fff"/>
<rect x="114.68" y="409.55" width="14.66" height="4.2" fill="#026a50"/>
<rect x="129.74" y="409.55" width="29.72" height="4.2" fill="#c4d3b1"/>
<rect x="144.4" y="409.55" width="0.4" height="4.2" fill="#fff"/>
<rect x="159.86" y="409.55" width="89.96" height="4.2" fill="#b5b3bb"/>
<rect x="174.52" y="409.55" width="0.4" height="4.2" fill="#fff"/>
<rect x="189.58" y="409.55" width="0.4" height="4.2" fill="#fff"/>
<rect x="204.64" y="409.55" width="0.4" height="4.2" fill="#fff"/>
<rect x="219.7" y="409.55" width="0.4" height="4.2" fill="#fff"/>
<rect x="234.76" y="409.55" width="0.4" height="4.2" fill="#fff"/>
<rect x="250.22" y="409.55" width="44.78" height="4.2" fill="#c4d3b1"/>
<rect x="264.88" y="409.55" width="0.4" height="4.2" fill="#fff"/>
<rect x="279.94" y="409.55" width="0.4" height="4.2" fill="#fff"/>
<rect x="295.4" y="409.55" width="29.72" height="4.2" fill="#b5b3bb"/>
<rect x="310.06" y="409.55" width="0.4" height="4.2" fill="#fff"/>
<rect x="325.52" y="409.55" width="14.66" height="4.2" fill="#c4d3b1"/>
<text transform="translate(343.6 413.55) scale(0.95 1)" font-size="7" font-style="italic" fill="#262626" stroke="#262626" stroke-width="0.12">KIAA1958</text>
<rect x="401.1" y="410.15" width="1.5" height="3" fill="#026a50"/>
<rect x="69.5" y="415.97" width="44.78" height="4.2" fill="#b5b3bb"/>
<rect x="84.16" y="415.97" width="0.4" height="4.2" fill="#fff"/>
<rect x="99.22" y="415.97" width="0.4" height="4.2" fill="#fff"/>
<rect x="114.68" y="415.97" width="14.66" height="4.2" fill="#026a50"/>
<rect x="129.74" y="415.97" width="29.72" height="4.2" fill="#c4d3b1"/>
<rect x="144.4" y="415.97" width="0.4" height="4.2" fill="#fff"/>
<rect x="159.86" y="415.97" width="89.96" height="4.2" fill="#b5b3bb"/>
<rect x="174.52" y="415.97" width="0.4" height="4.2" fill="#fff"/>
<rect x="189.58" y="415.97" width="0.4" height="4.2" fill="#fff"/>
<rect x="204.64" y="415.97" width="0.4" height="4.2" fill="#fff"/>
<rect x="219.7" y="415.97" width="0.4" height="4.2" fill="#fff"/>
<rect x="234.76" y="415.97" width="0.4" height="4.2" fill="#fff"/>
<rect x="250.22" y="415.97" width="44.78" height="4.2" fill="#c4d3b1"/>
<rect x="264.88" y="415.97" width="0.4" height="4.2" fill="#fff"/>
<rect x="279.94" y="415.97" width="0.4" height="4.2" fill="#fff"/>
<rect x="295.4" y="415.97" width="29.72" height="4.2" fill="#b5b3bb"/>
<rect x="310.06" y="415.97" width="0.4" height="4.2" fill="#fff"/>
<rect x="325.52" y="415.97" width="14.66" height="4.2" fill="#c4d3b1"/>
<text transform="translate(343.6 419.97) scale(0.95 1)" font-size="7" font-style="italic" fill="#262626" stroke="#262626" stroke-width="0.12">MAGEF1</text>
<rect x="401.1" y="416.57" width="1.5" height="3" fill="#026a50"/>
<rect x="69.5" y="422.39" width="44.78" height="4.2" fill="#b5b3bb"/>
<rect x="84.16" y="422.39" width="0.4" height="4.2" fill="#fff"/>
<rect x="99.22" y="422.39" width="0.4" height="4.2" fill="#fff"/>
<rect x="114.68" y="422.39" width="14.66" height="4.2" fill="#026a50"/>
<rect x="129.74" y="422.39" width="29.72" height="4.2" fill="#c4d3b1"/>
<rect x="144.4" y="422.39" width="0.4" height="4.2" fill="#fff"/>
<rect x="159.86" y="422.39" width="89.96" height="4.2" fill="#b5b3bb"/>
<rect x="174.52" y="422.39" width="0.4" height="4.2" fill="#fff"/>
<rect x="189.58" y="422.39" width="0.4" height="4.2" fill="#fff"/>
<rect x="204.64" y="422.39" width="0.4" height="4.2" fill="#fff"/>
<rect x="219.7" y="422.39" width="0.4" height="4.2" fill="#fff"/>
<rect x="234.76" y="422.39" width="0.4" height="4.2" fill="#fff"/>
<rect x="250.22" y="422.39" width="44.78" height="4.2" fill="#c4d3b1"/>
<rect x="264.88" y="422.39" width="0.4" height="4.2" fill="#fff"/>
<rect x="279.94" y="422.39" width="0.4" height="4.2" fill="#fff"/>
<rect x="295.4" y="422.39" width="29.72" height="4.2" fill="#b5b3bb"/>
<rect x="310.06" y="422.39" width="0.4" height="4.2" fill="#fff"/>
<rect x="325.52" y="422.39" width="14.66" height="4.2" fill="#c4d3b1"/>
<text transform="translate(343.6 426.39) scale(0.95 1)" font-size="7" font-style="italic" fill="#262626" stroke="#262626" stroke-width="0.12">PLAA</text>
<rect x="401.1" y="422.99" width="1.5" height="3" fill="#026a50"/>
<rect x="69.5" y="428.81" width="14.66" height="4.2" fill="#b5b3bb"/>
<rect x="84.56" y="428.81" width="14.66" height="4.2" fill="#42b252"/>
<rect x="99.62" y="428.81" width="29.72" height="4.2" fill="#b5b3bb"/>
<rect x="114.28" y="428.81" width="0.4" height="4.2" fill="#fff"/>
<rect x="129.74" y="428.81" width="29.72" height="4.2" fill="#c4d3b1"/>
<rect x="144.4" y="428.81" width="0.4" height="4.2" fill="#fff"/>
<rect x="159.86" y="428.81" width="89.96" height="4.2" fill="#b5b3bb"/>
<rect x="174.52" y="428.81" width="0.4" height="4.2" fill="#fff"/>
<rect x="189.58" y="428.81" width="0.4" height="4.2" fill="#fff"/>
<rect x="204.64" y="428.81" width="0.4" height="4.2" fill="#fff"/>
<rect x="219.7" y="428.81" width="0.4" height="4.2" fill="#fff"/>
<rect x="234.76" y="428.81" width="0.4" height="4.2" fill="#fff"/>
<rect x="250.22" y="428.81" width="44.78" height="4.2" fill="#c4d3b1"/>
<rect x="264.88" y="428.81" width="0.4" height="4.2" fill="#fff"/>
<rect x="279.94" y="428.81" width="0.4" height="4.2" fill="#fff"/>
<rect x="295.4" y="428.81" width="29.72" height="4.2" fill="#b5b3bb"/>
<rect x="310.06" y="428.81" width="0.4" height="4.2" fill="#fff"/>
<rect x="325.52" y="428.81" width="14.66" height="4.2" fill="#c4d3b1"/>
<text transform="translate(343.6 432.81) scale(0.95 1)" font-size="7" font-style="italic" fill="#262626" stroke="#262626" stroke-width="0.12">MYH11</text>
<rect x="401.1" y="429.41" width="1.5" height="3" fill="#42b252"/>
<rect x="69.5" y="435.23" width="59.84" height="4.2" fill="#b5b3bb"/>
<rect x="84.16" y="435.23" width="0.4" height="4.2" fill="#fff"/>
<rect x="99.22" y="435.23" width="0.4" height="4.2" fill="#fff"/>
<rect x="114.28" y="435.23" width="0.4" height="4.2" fill="#fff"/>
<rect x="129.74" y="435.23" width="29.72" height="4.2" fill="#c4d3b1"/>
<rect x="144.4" y="435.23" width="0.4" height="4.2" fill="#fff"/>
<rect x="159.86" y="435.23" width="44.78" height="4.2" fill="#b5b3bb"/>
<rect x="174.52" y="435.23" width="0.4" height="4.2" fill="#fff"/>
<rect x="189.58" y="435.23" width="0.4" height="4.2" fill="#fff"/>
<rect x="205.04" y="435.23" width="14.66" height="4.2" fill="#42b252"/>
<rect x="220.1" y="435.23" width="29.72" height="4.2" fill="#b5b3bb"/>
<rect x="234.76" y="435.23" width="0.4" height="4.2" fill="#fff"/>
<rect x="250.22" y="435.23" width="44.78" height="4.2" fill="#c4d3b1"/>
<rect x="264.88" y="435.23" width="0.4" height="4.2" fill="#fff"/>
<rect x="279.94" y="435.23" width="0.4" height="4.2" fill="#fff"/>
<rect x="295.4" y="435.23" width="29.72" height="4.2" fill="#b5b3bb"/>
<rect x="310.06" y="435.23" width="0.4" height="4.2" fill="#fff"/>
<rect x="325.52" y="435.23" width="14.66" height="4.2" fill="#c4d3b1"/>
<text transform="translate(343.6 439.23) scale(0.95 1)" font-size="7" font-style="italic" fill="#262626" stroke="#262626" stroke-width="0.12">MSH2</text>
<rect x="401.1" y="435.83" width="1.5" height="3" fill="#42b252"/>
<rect x="69.5" y="441.65" width="29.72" height="4.2" fill="#e18e98"/>
<rect x="84.16" y="441.65" width="0.4" height="4.2" fill="#fff"/>
<rect x="99.62" y="441.65" width="29.72" height="4.2" fill="#5a3413"/>
<rect x="114.28" y="441.65" width="0.4" height="4.2" fill="#fff"/>
<rect x="129.74" y="441.65" width="29.72" height="4.2" fill="#c4d3b1"/>
<rect x="144.4" y="441.65" width="0.4" height="4.2" fill="#fff"/>
<rect x="159.86" y="441.65" width="44.78" height="4.2" fill="#b5b3bb"/>
<rect x="174.52" y="441.65" width="0.4" height="4.2" fill="#fff"/>
<rect x="189.58" y="441.65" width="0.4" height="4.2" fill="#fff"/>
<rect x="205.04" y="441.65" width="14.66" height="4.2" fill="#5a3413"/>
<rect x="220.1" y="441.65" width="29.72" height="4.2" fill="#b5b3bb"/>
<rect x="234.76" y="441.65" width="0.4" height="4.2" fill="#fff"/>
<rect x="250.22" y="441.65" width="44.78" height="4.2" fill="#c4d3b1"/>
<rect x="264.88" y="441.65" width="0.4" height="4.2" fill="#fff"/>
<rect x="279.94" y="441.65" width="0.4" height="4.2" fill="#fff"/>
<rect x="295.4" y="441.65" width="29.72" height="4.2" fill="#b5b3bb"/>
<rect x="310.06" y="441.65" width="0.4" height="4.2" fill="#fff"/>
<rect x="325.52" y="441.65" width="14.66" height="4.2" fill="#c4d3b1"/>
<text transform="translate(343.6 445.65) scale(0.95 1)" font-size="7" font-style="italic" fill="#262626" stroke="#262626" stroke-width="0.12">Other</text>
<rect x="401.1" y="442.25" width="3" height="3" fill="#e18e98"/>
<rect x="404.1" y="442.25" width="4.5" height="3" fill="#5a3413"/>
<path d="M401.1 445.8H432.2" stroke="#222" stroke-width="1.1"/>
<path d="M401.2 446V448.7" stroke="#222" stroke-width="0.9"/>
<text transform="translate(402.5 451.9) rotate(-90)" text-anchor="end" font-size="6.6" fill="#2a2a2a">0</text>
<path d="M408.5 446V448.7" stroke="#222" stroke-width="0.9"/>
<text transform="translate(409.8 451.9) rotate(-90)" text-anchor="end" font-size="6.6" fill="#2a2a2a">5</text>
<path d="M416 446V448.7" stroke="#222" stroke-width="0.9"/>
<text transform="translate(417.3 451.9) rotate(-90)" text-anchor="end" font-size="6.6" fill="#2a2a2a">10</text>
<path d="M423.5 446V448.7" stroke="#222" stroke-width="0.9"/>
<text transform="translate(424.8 451.9) rotate(-90)" text-anchor="end" font-size="6.6" fill="#2a2a2a">15</text>
<path d="M431 446V448.7" stroke="#222" stroke-width="0.9"/>
<text transform="translate(432.3 451.9) rotate(-90)" text-anchor="end" font-size="6.6" fill="#2a2a2a">20</text>
<text transform="translate(78.95 449.9) rotate(-90) scale(0.92 1)" text-anchor="end" font-size="8.2" fill="#505050">Case.1</text>
<text transform="translate(94.01 449.9) rotate(-90) scale(0.92 1)" text-anchor="end" font-size="8.2" fill="#505050">Case.2</text>
<text transform="translate(109.07 449.9) rotate(-90) scale(0.92 1)" text-anchor="end" font-size="8.2" fill="#505050">Case.3</text>
<text transform="translate(124.13 449.9) rotate(-90) scale(0.92 1)" text-anchor="end" font-size="8.2" fill="#505050">Case.4</text>
<text transform="translate(139.19 449.9) rotate(-90) scale(0.92 1)" text-anchor="end" font-size="8.2" fill="#505050">Case.5</text>
<text transform="translate(154.25 449.9) rotate(-90) scale(0.92 1)" text-anchor="end" font-size="8.2" fill="#505050">Case.6</text>
<text transform="translate(169.31 449.9) rotate(-90) scale(0.92 1)" text-anchor="end" font-size="8.2" fill="#505050">Case.7</text>
<text transform="translate(184.37 449.9) rotate(-90) scale(0.92 1)" text-anchor="end" font-size="8.2" fill="#505050">Case.8</text>
<text transform="translate(199.43 449.9) rotate(-90) scale(0.92 1)" text-anchor="end" font-size="8.2" fill="#505050">Case.9</text>
<text transform="translate(214.49 449.9) rotate(-90) scale(0.92 1)" text-anchor="end" font-size="8.2" fill="#505050">Case.10</text>
<text transform="translate(229.55 449.9) rotate(-90) scale(0.92 1)" text-anchor="end" font-size="8.2" fill="#505050">Case.11</text>
<text transform="translate(244.61 449.9) rotate(-90) scale(0.92 1)" text-anchor="end" font-size="8.2" fill="#505050">Case.12</text>
<text transform="translate(259.67 449.9) rotate(-90) scale(0.92 1)" text-anchor="end" font-size="8.2" fill="#505050">Case.13</text>
<text transform="translate(274.73 449.9) rotate(-90) scale(0.92 1)" text-anchor="end" font-size="8.2" fill="#505050">Case.14</text>
<text transform="translate(289.79 449.9) rotate(-90) scale(0.92 1)" text-anchor="end" font-size="8.2" fill="#505050">Case.16</text>
<text transform="translate(304.85 449.9) rotate(-90) scale(0.92 1)" text-anchor="end" font-size="8.2" fill="#505050">Case.17</text>
<text transform="translate(319.91 449.9) rotate(-90) scale(0.92 1)" text-anchor="end" font-size="8.2" fill="#505050">Case.18</text>
<text transform="translate(334.97 449.9) rotate(-90) scale(0.92 1)" text-anchor="end" font-size="8.2" fill="#505050">Case.20</text>
<path d="M70.8 483.4H172.3" stroke="#1a1a1a" stroke-width="1"/>
<text x="126" y="493.2" text-anchor="middle" font-size="9" font-weight="bold" fill="#1a1a1a" textLength="28.5" lengthAdjust="spacingAndGlyphs">t(2;14)</text>
<path d="M176.6 483.4H292.8" stroke="#1a1a1a" stroke-width="1"/>
<text x="238.9" y="493.2" text-anchor="middle" font-size="9" font-weight="bold" fill="#1a1a1a" textLength="28.5" lengthAdjust="spacingAndGlyphs">t(6;14)</text>
<path d="M298.2 483.4H323.1" stroke="#1a1a1a" stroke-width="1"/>
<text x="309.4" y="493.2" text-anchor="middle" font-size="9" font-weight="bold" fill="#1a1a1a" textLength="28.5" lengthAdjust="spacingAndGlyphs">t(7;14)</text>
<path d="M328 483.4H338.7" stroke="#1a1a1a" stroke-width="1"/>
<text x="342.9" y="493.2" text-anchor="middle" font-size="9" font-weight="bold" fill="#1a1a1a" textLength="28.5" lengthAdjust="spacingAndGlyphs">t(8;14)</text>
<text x="420.3" y="236.7" font-size="9.4" font-weight="bold" fill="#1a1a1a" textLength="75.4" lengthAdjust="spacingAndGlyphs">Gene Alterations</text>
<rect x="420" y="239.6" width="6" height="6" fill="#026a50"/>
<text transform="translate(430.6 245.3) scale(0.93 1)" font-size="8" fill="#333">somatic mutation</text>
<rect x="420" y="248.45" width="6" height="6" fill="#42b252"/>
<text transform="translate(430.6 254.15) scale(0.93 1)" font-size="8" fill="#333">variant of unknown status</text>
<rect x="420" y="257.3" width="6" height="6" fill="#c8102e"/>
<text transform="translate(430.6 263) scale(0.93 1)" font-size="8" fill="#333">loss</text>
<rect x="420" y="266.15" width="6" height="6" fill="#f5b11a"/>
<text transform="translate(430.6 271.85) scale(0.93 1)" font-size="8" fill="#333">cnLOH</text>
<rect x="420" y="275" width="6" height="6" fill="#b5b3bb"/>
<text transform="translate(430.6 280.7) scale(0.93 1)" font-size="8" fill="#333">not available</text>
<rect x="420" y="283.85" width="6" height="6" fill="#c4d3b1"/>
<text transform="translate(430.6 289.55) scale(0.93 1)" font-size="8" fill="#333">single alteration</text>
<rect x="420" y="292.7" width="6" height="6" fill="#5a3413"/>
<text transform="translate(430.6 298.4) scale(0.93 1)" font-size="8" fill="#333">multiple alterations</text>
<rect x="0.65" y="0.65" width="518.7" height="501.7" fill="none" stroke="#000" stroke-width="1.3"/>
</svg>
</body></html>
